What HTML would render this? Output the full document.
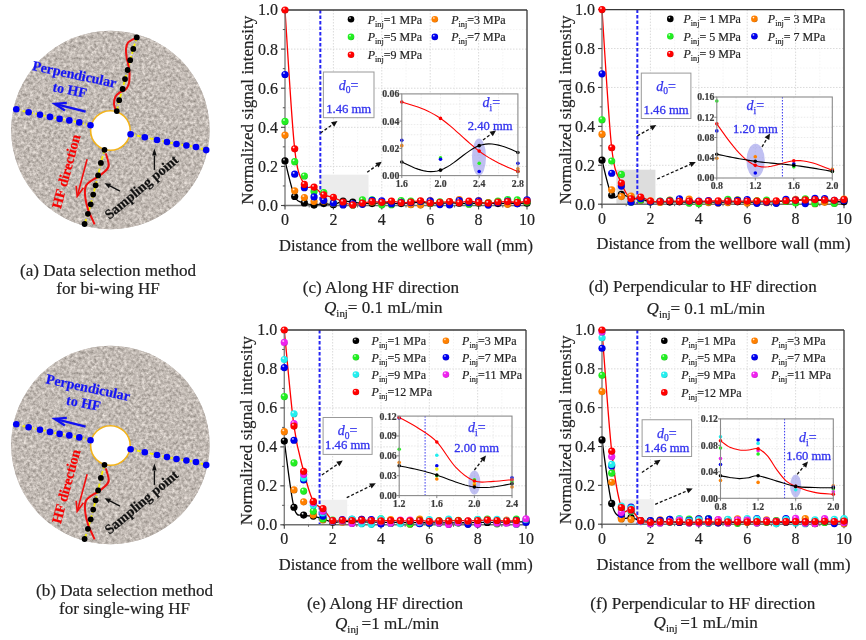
<!DOCTYPE html><html><head><meta charset="utf-8"><title>figure</title><style>html,body{margin:0;padding:0;background:#fff;width:866px;height:640px;overflow:hidden}svg{display:block}</style></head><body><svg width="866" height="640" viewBox="0 0 866 640" font-family="'Liberation Serif', 'Times New Roman', serif"><defs><radialGradient id="gk" cx="0.38" cy="0.35" r="0.7" fx="0.35" fy="0.3"><stop offset="0" stop-color="#ffffff"/><stop offset="0.28" stop-color="#000000"/><stop offset="0.8" stop-color="#000000"/><stop offset="1" stop-color="#000000"/></radialGradient><radialGradient id="go" cx="0.38" cy="0.35" r="0.7" fx="0.35" fy="0.3"><stop offset="0" stop-color="#ffffff"/><stop offset="0.28" stop-color="#ff8000"/><stop offset="0.8" stop-color="#ff8000"/><stop offset="1" stop-color="#b25900"/></radialGradient><radialGradient id="gg" cx="0.38" cy="0.35" r="0.7" fx="0.35" fy="0.3"><stop offset="0" stop-color="#ffffff"/><stop offset="0.28" stop-color="#22ee22"/><stop offset="0.8" stop-color="#22ee22"/><stop offset="1" stop-color="#17a617"/></radialGradient><radialGradient id="gb" cx="0.38" cy="0.35" r="0.7" fx="0.35" fy="0.3"><stop offset="0" stop-color="#ffffff"/><stop offset="0.28" stop-color="#0000ee"/><stop offset="0.8" stop-color="#0000ee"/><stop offset="1" stop-color="#0000a6"/></radialGradient><radialGradient id="gr" cx="0.38" cy="0.35" r="0.7" fx="0.35" fy="0.3"><stop offset="0" stop-color="#ffffff"/><stop offset="0.28" stop-color="#ff0000"/><stop offset="0.8" stop-color="#ff0000"/><stop offset="1" stop-color="#b20000"/></radialGradient><radialGradient id="gc" cx="0.38" cy="0.35" r="0.7" fx="0.35" fy="0.3"><stop offset="0" stop-color="#ffffff"/><stop offset="0.28" stop-color="#22eeee"/><stop offset="0.8" stop-color="#22eeee"/><stop offset="1" stop-color="#17a6a6"/></radialGradient><radialGradient id="gm" cx="0.38" cy="0.35" r="0.7" fx="0.35" fy="0.3"><stop offset="0" stop-color="#ffffff"/><stop offset="0.28" stop-color="#ee22ee"/><stop offset="0.8" stop-color="#ee22ee"/><stop offset="1" stop-color="#a617a6"/></radialGradient><radialGradient id="gy" cx="0.38" cy="0.35" r="0.7" fx="0.35" fy="0.3"><stop offset="0" stop-color="#ffffff"/><stop offset="0.28" stop-color="#eeee22"/><stop offset="0.8" stop-color="#eeee22"/><stop offset="1" stop-color="#a6a617"/></radialGradient><marker id="ah" viewBox="0 0 10 10" refX="9" refY="5" markerWidth="6" markerHeight="6" orient="auto-start-reverse" markerUnits="userSpaceOnUse"><path d="M0,0 L10,5 L0,10 z" fill="#000"/></marker><filter id="granite" x="0" y="0" width="100%" height="100%" color-interpolation-filters="sRGB"><feTurbulence type="fractalNoise" baseFrequency="0.33" numOctaves="3" seed="7" result="n"/><feColorMatrix type="matrix" in="n" result="gray" values="0.5 0 0 0 0.51  0.5 0 0 0 0.48  0.5 0 0 0 0.455  0 0 0 0 1"/><feGaussianBlur stdDeviation="0.35" result="bl"/><feComposite in="bl" in2="SourceGraphic" operator="in"/></filter></defs><rect width="866" height="640" fill="#fff"/><circle cx="110.4" cy="130" r="99.2" fill="#beb7b2"/><circle cx="110.4" cy="130" r="99.2" fill="#fff" filter="url(#granite)"/><circle cx="110.4" cy="130.5" r="19.8" fill="#fff" stroke="#f3b31a" stroke-width="1.6"/><polyline points="16.3,109.3 28.6,112.3 40,114.7 50,116.9 59.6,118.9 69.3,120.4 79.3,122.4 90.5,125.2" fill="none" stroke="#f6f000" stroke-width="1.8" stroke-dasharray="4,2.5"/><polyline points="130.6,134.2 144.8,137.2 157,140 167,142 176.5,144 186.4,145.5 196,147 206.2,150.1" fill="none" stroke="#f6f000" stroke-width="1.8" stroke-dasharray="4,2.5"/><polyline points="104.5,149.8 100.9,162.9 98.1,175.4 95.6,185.3 93.2,194.6 90.7,204.3 87.9,213.8 84.6,224" fill="none" stroke="#f6f000" stroke-width="1.8" stroke-dasharray="4,2.5"/><polyline points="136.8,37.4 133.3,48.9 130.2,60.2 127.6,70 125,79.1 122.6,89 119.2,100.2 116.8,111.1" fill="none" stroke="#f6f000" stroke-width="1.8" stroke-dasharray="4,2.5"/><path d="M105.9,153.4 C106.37,155.5 109.18,162.73 108.7,166 C108.22,169.27 105,171.12 103,173 C101,174.88 99.15,175.65 96.7,177.3 C94.25,178.95 90.22,181.15 88.3,182.9 C86.38,184.65 85.67,185.12 85.2,187.8 C84.73,190.48 84.98,195.25 85.5,199 C86.02,202.75 87.3,207.22 88.3,210.3 C89.3,213.38 90.45,215.15 91.5,217.5 C92.55,219.85 94.08,223.25 94.6,224.4" fill="none" stroke="#f01010" stroke-width="2"/><path d="M135.5,38 C134.25,38.77 129.58,40.78 128,42.6 C126.42,44.42 126.23,46.45 126,48.9 C125.77,51.35 126.13,54.25 126.6,57.3 C127.07,60.35 128.32,64.38 128.8,67.2 C129.28,70.02 129.5,71.4 129.5,74.2 C129.5,77 129.52,81.42 128.8,84 C128.08,86.58 126.73,88.28 125.2,89.7 C123.67,91.12 121.23,91.33 119.6,92.5 C117.97,93.67 116.33,94.82 115.4,96.7 C114.47,98.58 114,101.68 114,103.8 C114,105.92 115.17,108.47 115.4,109.4" fill="none" stroke="#f01010" stroke-width="2"/><circle cx="16.3" cy="109.3" r="3.3" fill="#0000f5"/><circle cx="28.6" cy="112.3" r="3.3" fill="#0000f5"/><circle cx="40" cy="114.7" r="3.3" fill="#0000f5"/><circle cx="50" cy="116.9" r="3.3" fill="#0000f5"/><circle cx="59.6" cy="118.9" r="3.3" fill="#0000f5"/><circle cx="69.3" cy="120.4" r="3.3" fill="#0000f5"/><circle cx="79.3" cy="122.4" r="3.3" fill="#0000f5"/><circle cx="90.5" cy="125.2" r="3.3" fill="#0000f5"/><circle cx="130.6" cy="134.2" r="3.3" fill="#0000f5"/><circle cx="144.8" cy="137.2" r="3.3" fill="#0000f5"/><circle cx="157" cy="140" r="3.3" fill="#0000f5"/><circle cx="167" cy="142" r="3.3" fill="#0000f5"/><circle cx="176.5" cy="144" r="3.3" fill="#0000f5"/><circle cx="186.4" cy="145.5" r="3.3" fill="#0000f5"/><circle cx="196" cy="147" r="3.3" fill="#0000f5"/><circle cx="206.2" cy="150.1" r="3.3" fill="#0000f5"/><circle cx="104.5" cy="149.8" r="2.9" fill="#000"/><circle cx="100.9" cy="162.9" r="2.9" fill="#000"/><circle cx="98.1" cy="175.4" r="2.9" fill="#000"/><circle cx="95.6" cy="185.3" r="2.9" fill="#000"/><circle cx="93.2" cy="194.6" r="2.9" fill="#000"/><circle cx="90.7" cy="204.3" r="2.9" fill="#000"/><circle cx="87.9" cy="213.8" r="2.9" fill="#000"/><circle cx="84.6" cy="224" r="2.9" fill="#000"/><circle cx="136.8" cy="37.4" r="2.9" fill="#000"/><circle cx="133.3" cy="48.9" r="2.9" fill="#000"/><circle cx="130.2" cy="60.2" r="2.9" fill="#000"/><circle cx="127.6" cy="70" r="2.9" fill="#000"/><circle cx="125" cy="79.1" r="2.9" fill="#000"/><circle cx="122.6" cy="89" r="2.9" fill="#000"/><circle cx="119.2" cy="100.2" r="2.9" fill="#000"/><circle cx="116.8" cy="111.1" r="2.9" fill="#000"/><line x1="85.6" y1="111.6" x2="55.77" y2="104.14" stroke="#1010f0" stroke-width="2.3"/><polyline points="66.81,102.88 54.8,103.9 64.91,110.45" fill="none" stroke="#1010f0" stroke-width="2.3" stroke-linejoin="miter"/><line x1="87.1" y1="159.2" x2="77.46" y2="195.43" stroke="#f01010" stroke-width="1.6"/><polyline points="76.1,185.76 77.2,196.4 83.44,187.71" fill="none" stroke="#f01010" stroke-width="1.6" stroke-linejoin="miter"/><line x1="154.4" y1="169.9" x2="154.4" y2="155.6" stroke="#111" stroke-width="1.3"/><path d="M154.4,148.6 L156.7,155.6 L152.1,155.6 Z" fill="#111"/><line x1="119.9" y1="191.1" x2="109.93" y2="185.95" stroke="#111" stroke-width="1.3"/><path d="M104.6,183.2 L111.08,183.73 L108.78,188.17 Z" fill="#111"/><text font-weight="bold" font-size="14" fill="#1515f5" stroke="#1515f5" stroke-width="0.18" text-anchor="middle" transform="translate(73.5,78.9) rotate(12)">Perpendicular</text><text font-weight="bold" font-size="14" fill="#1515f5" stroke="#1515f5" stroke-width="0.18" text-anchor="middle" transform="translate(68.9,94.5) rotate(11)">to HF</text><text font-weight="bold" font-size="14" fill="#f80000" stroke="#f80000" stroke-width="0.18" transform="translate(60.8,209.2) rotate(-75)">HF direction</text><text font-weight="bold" font-size="14" fill="#111" stroke="#111" stroke-width="0.18" transform="translate(109.4,219.9) rotate(-40)">Sampling point</text><g transform="translate(0,315)"><circle cx="110.4" cy="130" r="99.2" fill="#beb7b2"/><circle cx="110.4" cy="130" r="99.2" fill="#fff" filter="url(#granite)"/><circle cx="110.4" cy="130.5" r="19.8" fill="#fff" stroke="#f3b31a" stroke-width="1.6"/><polyline points="16.3,109.3 28.6,112.3 40,114.7 50,116.9 59.6,118.9 69.3,120.4 79.3,122.4 90.5,125.2" fill="none" stroke="#f6f000" stroke-width="1.8" stroke-dasharray="4,2.5"/><polyline points="130.6,134.2 144.8,137.2 157,140 167,142 176.5,144 186.4,145.5 196,147 206.2,150.1" fill="none" stroke="#f6f000" stroke-width="1.8" stroke-dasharray="4,2.5"/><polyline points="104.5,149.8 100.9,162.9 98.1,175.4 95.6,185.3 93.2,194.6 90.7,204.3 87.9,213.8 84.6,224" fill="none" stroke="#f6f000" stroke-width="1.8" stroke-dasharray="4,2.5"/><path d="M105.9,153.4 C106.37,155.5 109.18,162.73 108.7,166 C108.22,169.27 105,171.12 103,173 C101,174.88 99.15,175.65 96.7,177.3 C94.25,178.95 90.22,181.15 88.3,182.9 C86.38,184.65 85.67,185.12 85.2,187.8 C84.73,190.48 84.98,195.25 85.5,199 C86.02,202.75 87.3,207.22 88.3,210.3 C89.3,213.38 90.45,215.15 91.5,217.5 C92.55,219.85 94.08,223.25 94.6,224.4" fill="none" stroke="#f01010" stroke-width="2"/><circle cx="16.3" cy="109.3" r="3.3" fill="#0000f5"/><circle cx="28.6" cy="112.3" r="3.3" fill="#0000f5"/><circle cx="40" cy="114.7" r="3.3" fill="#0000f5"/><circle cx="50" cy="116.9" r="3.3" fill="#0000f5"/><circle cx="59.6" cy="118.9" r="3.3" fill="#0000f5"/><circle cx="69.3" cy="120.4" r="3.3" fill="#0000f5"/><circle cx="79.3" cy="122.4" r="3.3" fill="#0000f5"/><circle cx="90.5" cy="125.2" r="3.3" fill="#0000f5"/><circle cx="130.6" cy="134.2" r="3.3" fill="#0000f5"/><circle cx="144.8" cy="137.2" r="3.3" fill="#0000f5"/><circle cx="157" cy="140" r="3.3" fill="#0000f5"/><circle cx="167" cy="142" r="3.3" fill="#0000f5"/><circle cx="176.5" cy="144" r="3.3" fill="#0000f5"/><circle cx="186.4" cy="145.5" r="3.3" fill="#0000f5"/><circle cx="196" cy="147" r="3.3" fill="#0000f5"/><circle cx="206.2" cy="150.1" r="3.3" fill="#0000f5"/><circle cx="104.5" cy="149.8" r="2.9" fill="#000"/><circle cx="100.9" cy="162.9" r="2.9" fill="#000"/><circle cx="98.1" cy="175.4" r="2.9" fill="#000"/><circle cx="95.6" cy="185.3" r="2.9" fill="#000"/><circle cx="93.2" cy="194.6" r="2.9" fill="#000"/><circle cx="90.7" cy="204.3" r="2.9" fill="#000"/><circle cx="87.9" cy="213.8" r="2.9" fill="#000"/><circle cx="84.6" cy="224" r="2.9" fill="#000"/><line x1="85.6" y1="111.6" x2="55.77" y2="104.14" stroke="#1010f0" stroke-width="2.3"/><polyline points="66.81,102.88 54.8,103.9 64.91,110.45" fill="none" stroke="#1010f0" stroke-width="2.3" stroke-linejoin="miter"/><line x1="87.1" y1="159.2" x2="77.46" y2="195.43" stroke="#f01010" stroke-width="1.6"/><polyline points="76.1,185.76 77.2,196.4 83.44,187.71" fill="none" stroke="#f01010" stroke-width="1.6" stroke-linejoin="miter"/><line x1="154.4" y1="169.9" x2="154.4" y2="155.6" stroke="#111" stroke-width="1.3"/><path d="M154.4,148.6 L156.7,155.6 L152.1,155.6 Z" fill="#111"/><line x1="119.9" y1="191.1" x2="109.93" y2="185.95" stroke="#111" stroke-width="1.3"/><path d="M104.6,183.2 L111.08,183.73 L108.78,188.17 Z" fill="#111"/><text font-weight="bold" font-size="14" fill="#1515f5" stroke="#1515f5" stroke-width="0.18" text-anchor="middle" transform="translate(87.2,77.1) rotate(12)">Perpendicular</text><text font-weight="bold" font-size="14" fill="#1515f5" stroke="#1515f5" stroke-width="0.18" text-anchor="middle" transform="translate(82.6,92.7) rotate(11)">to HF</text><text font-weight="bold" font-size="14" fill="#f80000" stroke="#f80000" stroke-width="0.18" transform="translate(60.8,209.2) rotate(-75)">HF direction</text><text font-weight="bold" font-size="14" fill="#111" stroke="#111" stroke-width="0.18" transform="translate(109.4,219.9) rotate(-40)">Sampling point</text></g><text x="108" y="275.8" font-size="17.1" fill="#222" stroke="#222" stroke-width="0.18" text-anchor="middle">(a) Data selection method</text><text x="108" y="293.8" font-size="17.1" fill="#222" stroke="#222" stroke-width="0.18" text-anchor="middle">for bi-wing HF</text><text x="124.5" y="595.8" font-size="17.1" fill="#222" stroke="#222" stroke-width="0.18" text-anchor="middle">(b) Data selection method</text><text x="124.5" y="613.8" font-size="17.1" fill="#222" stroke="#222" stroke-width="0.18" text-anchor="middle">for single-wing HF</text><line x1="309.2" y1="10" x2="309.2" y2="205.5" stroke="#f1f1f1" stroke-width="0.8" stroke-dasharray="1.5,1.5"/><line x1="357.6" y1="10" x2="357.6" y2="205.5" stroke="#f1f1f1" stroke-width="0.8" stroke-dasharray="1.5,1.5"/><line x1="406" y1="10" x2="406" y2="205.5" stroke="#f1f1f1" stroke-width="0.8" stroke-dasharray="1.5,1.5"/><line x1="454.4" y1="10" x2="454.4" y2="205.5" stroke="#f1f1f1" stroke-width="0.8" stroke-dasharray="1.5,1.5"/><line x1="502.8" y1="10" x2="502.8" y2="205.5" stroke="#f1f1f1" stroke-width="0.8" stroke-dasharray="1.5,1.5"/><line x1="285" y1="185.95" x2="527" y2="185.95" stroke="#f1f1f1" stroke-width="0.8" stroke-dasharray="1.5,1.5"/><line x1="285" y1="146.85" x2="527" y2="146.85" stroke="#f1f1f1" stroke-width="0.8" stroke-dasharray="1.5,1.5"/><line x1="285" y1="107.75" x2="527" y2="107.75" stroke="#f1f1f1" stroke-width="0.8" stroke-dasharray="1.5,1.5"/><line x1="285" y1="68.65" x2="527" y2="68.65" stroke="#f1f1f1" stroke-width="0.8" stroke-dasharray="1.5,1.5"/><line x1="285" y1="29.55" x2="527" y2="29.55" stroke="#f1f1f1" stroke-width="0.8" stroke-dasharray="1.5,1.5"/><line x1="333.4" y1="10" x2="333.4" y2="205.5" stroke="#d6d6d6" stroke-width="0.9" stroke-dasharray="1.5,1.5"/><line x1="381.8" y1="10" x2="381.8" y2="205.5" stroke="#d6d6d6" stroke-width="0.9" stroke-dasharray="1.5,1.5"/><line x1="430.2" y1="10" x2="430.2" y2="205.5" stroke="#d6d6d6" stroke-width="0.9" stroke-dasharray="1.5,1.5"/><line x1="478.6" y1="10" x2="478.6" y2="205.5" stroke="#d6d6d6" stroke-width="0.9" stroke-dasharray="1.5,1.5"/><line x1="285" y1="166.4" x2="527" y2="166.4" stroke="#d6d6d6" stroke-width="0.9" stroke-dasharray="1.5,1.5"/><line x1="285" y1="127.3" x2="527" y2="127.3" stroke="#d6d6d6" stroke-width="0.9" stroke-dasharray="1.5,1.5"/><line x1="285" y1="88.2" x2="527" y2="88.2" stroke="#d6d6d6" stroke-width="0.9" stroke-dasharray="1.5,1.5"/><line x1="285" y1="49.1" x2="527" y2="49.1" stroke="#d6d6d6" stroke-width="0.9" stroke-dasharray="1.5,1.5"/><rect x="320.4" y="174.7" width="48.1" height="30.8" fill="#ececec"/><line x1="320.33" y1="10" x2="320.33" y2="205.5" stroke="#2424f4" stroke-width="2" stroke-dasharray="3.5,2"/><path d="M285,160.93 C286.61,166.86 291.45,189.5 294.68,196.51 C297.91,203.51 301.13,201.52 304.36,202.96 C307.59,204.39 310.81,205.01 314.04,205.11 C317.27,205.21 320.49,203.61 323.72,203.54 C326.95,203.48 330.17,205.11 333.4,204.72 C336.63,204.33 339.85,201.62 343.08,201.2 C346.31,200.78 349.53,201.85 352.76,202.18 C355.99,202.5 359.21,202.93 362.44,203.15 C365.67,203.38 368.89,203.61 372.12,203.54 C375.35,203.48 378.57,202.83 381.8,202.76 C385.03,202.7 388.25,203.02 391.48,203.15 C394.71,203.28 397.93,203.58 401.16,203.54 C404.39,203.51 407.61,203.15 410.84,202.96 C414.07,202.76 417.29,202.34 420.52,202.37 C423.75,202.4 426.97,202.96 430.2,203.15 C433.43,203.35 436.65,203.61 439.88,203.54 C443.11,203.48 446.33,202.83 449.56,202.76 C452.79,202.7 456.01,203.02 459.24,203.15 C462.47,203.28 465.69,203.58 468.92,203.54 C472.15,203.51 475.37,203.02 478.6,202.96 C481.83,202.89 485.05,203.06 488.28,203.15 C491.51,203.25 494.73,203.54 497.96,203.54 C501.19,203.54 504.41,203.19 507.64,203.15 C510.87,203.12 514.09,203.35 517.32,203.35 C520.55,203.35 525.39,203.19 527,203.15" fill="none" stroke="#000000" stroke-width="1.3"/><path d="M285,10 C286.61,33.13 291.45,119.74 294.68,148.81 C297.91,177.87 301.13,178 304.36,184.39 C307.59,190.77 310.81,185.36 314.04,187.12 C317.27,188.88 320.49,193.25 323.72,194.94 C326.95,196.64 330.17,196.12 333.4,197.29 C336.63,198.46 339.85,200.71 343.08,201.98 C346.31,203.25 349.53,204.72 352.76,204.91 C355.99,205.11 359.21,203.71 362.44,203.15 C365.67,202.6 368.89,201.72 372.12,201.59 C375.35,201.46 378.57,202.44 381.8,202.37 C385.03,202.31 388.25,201.13 391.48,201.2 C394.71,201.26 397.93,202.63 401.16,202.76 C404.39,202.89 407.61,202.31 410.84,201.98 C414.07,201.66 417.29,200.61 420.52,200.81 C423.75,201 426.97,202.89 430.2,203.15 C433.43,203.41 436.65,202.63 439.88,202.37 C443.11,202.11 446.33,201.52 449.56,201.59 C452.79,201.66 456.01,202.83 459.24,202.76 C462.47,202.7 465.69,201.26 468.92,201.2 C472.15,201.13 475.37,202.05 478.6,202.37 C481.83,202.7 485.05,203.22 488.28,203.15 C491.51,203.09 494.73,202.24 497.96,201.98 C501.19,201.72 504.41,201.52 507.64,201.59 C510.87,201.66 514.09,202.44 517.32,202.37 C520.55,202.31 525.39,201.39 527,201.2" fill="none" stroke="#ff0000" stroke-width="1.3"/><line x1="285" y1="10" x2="527" y2="10" stroke="#383838" stroke-width="1.3"/><line x1="527" y1="10" x2="527" y2="205.5" stroke="#383838" stroke-width="1.3"/><line x1="285" y1="9.4" x2="285" y2="206.5" stroke="#808080" stroke-width="1.4"/><line x1="283.5" y1="205.5" x2="527" y2="205.5" stroke="#707070" stroke-width="1.5"/><line x1="281" y1="205.5" x2="285" y2="205.5" stroke="#444" stroke-width="1.1"/><text x="278" y="210.9" font-size="16" fill="#222" stroke="#222" stroke-width="0.18" text-anchor="end">0.0</text><line x1="281" y1="166.4" x2="285" y2="166.4" stroke="#444" stroke-width="1.1"/><text x="278" y="171.8" font-size="16" fill="#222" stroke="#222" stroke-width="0.18" text-anchor="end">0.2</text><line x1="281" y1="127.3" x2="285" y2="127.3" stroke="#444" stroke-width="1.1"/><text x="278" y="132.7" font-size="16" fill="#222" stroke="#222" stroke-width="0.18" text-anchor="end">0.4</text><line x1="281" y1="88.2" x2="285" y2="88.2" stroke="#444" stroke-width="1.1"/><text x="278" y="93.6" font-size="16" fill="#222" stroke="#222" stroke-width="0.18" text-anchor="end">0.6</text><line x1="281" y1="49.1" x2="285" y2="49.1" stroke="#444" stroke-width="1.1"/><text x="278" y="54.5" font-size="16" fill="#222" stroke="#222" stroke-width="0.18" text-anchor="end">0.8</text><line x1="281" y1="10" x2="285" y2="10" stroke="#444" stroke-width="1.1"/><text x="278" y="15.4" font-size="16" fill="#222" stroke="#222" stroke-width="0.18" text-anchor="end">1.0</text><line x1="282.8" y1="185.95" x2="285" y2="185.95" stroke="#555" stroke-width="1"/><line x1="282.8" y1="146.85" x2="285" y2="146.85" stroke="#555" stroke-width="1"/><line x1="282.8" y1="107.75" x2="285" y2="107.75" stroke="#555" stroke-width="1"/><line x1="282.8" y1="68.65" x2="285" y2="68.65" stroke="#555" stroke-width="1"/><line x1="282.8" y1="29.55" x2="285" y2="29.55" stroke="#555" stroke-width="1"/><line x1="285" y1="205.5" x2="285" y2="209.5" stroke="#444" stroke-width="1.1"/><text x="285" y="224.8" font-size="16" fill="#222" stroke="#222" stroke-width="0.18" text-anchor="middle">0</text><line x1="333.4" y1="205.5" x2="333.4" y2="209.5" stroke="#444" stroke-width="1.1"/><text x="333.4" y="224.8" font-size="16" fill="#222" stroke="#222" stroke-width="0.18" text-anchor="middle">2</text><line x1="381.8" y1="205.5" x2="381.8" y2="209.5" stroke="#444" stroke-width="1.1"/><text x="381.8" y="224.8" font-size="16" fill="#222" stroke="#222" stroke-width="0.18" text-anchor="middle">4</text><line x1="430.2" y1="205.5" x2="430.2" y2="209.5" stroke="#444" stroke-width="1.1"/><text x="430.2" y="224.8" font-size="16" fill="#222" stroke="#222" stroke-width="0.18" text-anchor="middle">6</text><line x1="478.6" y1="205.5" x2="478.6" y2="209.5" stroke="#444" stroke-width="1.1"/><text x="478.6" y="224.8" font-size="16" fill="#222" stroke="#222" stroke-width="0.18" text-anchor="middle">8</text><line x1="527" y1="205.5" x2="527" y2="209.5" stroke="#444" stroke-width="1.1"/><text x="527" y="224.8" font-size="16" fill="#222" stroke="#222" stroke-width="0.18" text-anchor="middle">10</text><line x1="309.2" y1="205.5" x2="309.2" y2="207.5" stroke="#666" stroke-width="1"/><line x1="357.6" y1="205.5" x2="357.6" y2="207.5" stroke="#666" stroke-width="1"/><line x1="406" y1="205.5" x2="406" y2="207.5" stroke="#666" stroke-width="1"/><line x1="454.4" y1="205.5" x2="454.4" y2="207.5" stroke="#666" stroke-width="1"/><line x1="502.8" y1="205.5" x2="502.8" y2="207.5" stroke="#666" stroke-width="1"/><circle cx="285" cy="160.93" r="3.6" fill="url(#gk)"/><circle cx="294.68" cy="196.51" r="3.6" fill="url(#gk)"/><circle cx="304.36" cy="202.96" r="3.6" fill="url(#gk)"/><circle cx="314.04" cy="205.11" r="3.6" fill="url(#gk)"/><circle cx="323.72" cy="203.54" r="3.6" fill="url(#gk)"/><circle cx="333.4" cy="204.72" r="3.6" fill="url(#gk)"/><circle cx="343.08" cy="201.2" r="3.6" fill="url(#gk)"/><circle cx="352.76" cy="202.18" r="3.6" fill="url(#gk)"/><circle cx="362.44" cy="203.15" r="3.6" fill="url(#gk)"/><circle cx="372.12" cy="203.54" r="3.6" fill="url(#gk)"/><circle cx="381.8" cy="202.76" r="3.6" fill="url(#gk)"/><circle cx="391.48" cy="203.15" r="3.6" fill="url(#gk)"/><circle cx="401.16" cy="203.54" r="3.6" fill="url(#gk)"/><circle cx="410.84" cy="202.96" r="3.6" fill="url(#gk)"/><circle cx="420.52" cy="202.37" r="3.6" fill="url(#gk)"/><circle cx="430.2" cy="203.15" r="3.6" fill="url(#gk)"/><circle cx="439.88" cy="203.54" r="3.6" fill="url(#gk)"/><circle cx="449.56" cy="202.76" r="3.6" fill="url(#gk)"/><circle cx="459.24" cy="203.15" r="3.6" fill="url(#gk)"/><circle cx="468.92" cy="203.54" r="3.6" fill="url(#gk)"/><circle cx="478.6" cy="202.96" r="3.6" fill="url(#gk)"/><circle cx="488.28" cy="203.15" r="3.6" fill="url(#gk)"/><circle cx="497.96" cy="203.54" r="3.6" fill="url(#gk)"/><circle cx="507.64" cy="203.15" r="3.6" fill="url(#gk)"/><circle cx="517.32" cy="203.35" r="3.6" fill="url(#gk)"/><circle cx="527" cy="203.15" r="3.6" fill="url(#gk)"/><circle cx="285" cy="135.12" r="3.6" fill="url(#go)"/><circle cx="294.68" cy="190.84" r="3.6" fill="url(#go)"/><circle cx="304.36" cy="197.48" r="3.6" fill="url(#go)"/><circle cx="314.04" cy="201.59" r="3.6" fill="url(#go)"/><circle cx="323.72" cy="201.2" r="3.6" fill="url(#go)"/><circle cx="333.4" cy="203.54" r="3.6" fill="url(#go)"/><circle cx="343.08" cy="204.52" r="3.6" fill="url(#go)"/><circle cx="352.76" cy="204.52" r="3.6" fill="url(#go)"/><circle cx="362.44" cy="203.81" r="3.6" fill="url(#go)"/><circle cx="372.12" cy="202.13" r="3.6" fill="url(#go)"/><circle cx="381.8" cy="203.08" r="3.6" fill="url(#go)"/><circle cx="391.48" cy="201.8" r="3.6" fill="url(#go)"/><circle cx="401.16" cy="201.68" r="3.6" fill="url(#go)"/><circle cx="410.84" cy="204.75" r="3.6" fill="url(#go)"/><circle cx="420.52" cy="205.04" r="3.6" fill="url(#go)"/><circle cx="430.2" cy="200.52" r="3.6" fill="url(#go)"/><circle cx="439.88" cy="203.69" r="3.6" fill="url(#go)"/><circle cx="449.56" cy="203.83" r="3.6" fill="url(#go)"/><circle cx="459.24" cy="199.66" r="3.6" fill="url(#go)"/><circle cx="468.92" cy="202.53" r="3.6" fill="url(#go)"/><circle cx="478.6" cy="200.53" r="3.6" fill="url(#go)"/><circle cx="488.28" cy="202.5" r="3.6" fill="url(#go)"/><circle cx="497.96" cy="201.61" r="3.6" fill="url(#go)"/><circle cx="507.64" cy="204.28" r="3.6" fill="url(#go)"/><circle cx="517.32" cy="201.63" r="3.6" fill="url(#go)"/><circle cx="527" cy="200.36" r="3.6" fill="url(#go)"/><circle cx="285" cy="121.44" r="3.6" fill="url(#gg)"/><circle cx="294.68" cy="161.71" r="3.6" fill="url(#gg)"/><circle cx="304.36" cy="175.98" r="3.6" fill="url(#gg)"/><circle cx="314.04" cy="191.42" r="3.6" fill="url(#gg)"/><circle cx="323.72" cy="192.6" r="3.6" fill="url(#gg)"/><circle cx="333.4" cy="202.96" r="3.6" fill="url(#gg)"/><circle cx="343.08" cy="203.74" r="3.6" fill="url(#gg)"/><circle cx="352.76" cy="204.91" r="3.6" fill="url(#gg)"/><circle cx="362.44" cy="199.88" r="3.6" fill="url(#gg)"/><circle cx="372.12" cy="199.92" r="3.6" fill="url(#gg)"/><circle cx="381.8" cy="204.8" r="3.6" fill="url(#gg)"/><circle cx="391.48" cy="204.64" r="3.6" fill="url(#gg)"/><circle cx="401.16" cy="200.54" r="3.6" fill="url(#gg)"/><circle cx="410.84" cy="201.08" r="3.6" fill="url(#gg)"/><circle cx="420.52" cy="201.44" r="3.6" fill="url(#gg)"/><circle cx="430.2" cy="203.42" r="3.6" fill="url(#gg)"/><circle cx="439.88" cy="201.79" r="3.6" fill="url(#gg)"/><circle cx="449.56" cy="201.79" r="3.6" fill="url(#gg)"/><circle cx="459.24" cy="201.93" r="3.6" fill="url(#gg)"/><circle cx="468.92" cy="204.24" r="3.6" fill="url(#gg)"/><circle cx="478.6" cy="202.75" r="3.6" fill="url(#gg)"/><circle cx="488.28" cy="202.95" r="3.6" fill="url(#gg)"/><circle cx="497.96" cy="201.15" r="3.6" fill="url(#gg)"/><circle cx="507.64" cy="199.66" r="3.6" fill="url(#gg)"/><circle cx="517.32" cy="199.91" r="3.6" fill="url(#gg)"/><circle cx="527" cy="202.13" r="3.6" fill="url(#gg)"/><circle cx="285" cy="74.51" r="3.6" fill="url(#gb)"/><circle cx="294.68" cy="174.22" r="3.6" fill="url(#gb)"/><circle cx="304.36" cy="187.71" r="3.6" fill="url(#gb)"/><circle cx="314.04" cy="196.9" r="3.6" fill="url(#gb)"/><circle cx="323.72" cy="200.42" r="3.6" fill="url(#gb)"/><circle cx="333.4" cy="203.15" r="3.6" fill="url(#gb)"/><circle cx="343.08" cy="204.91" r="3.6" fill="url(#gb)"/><circle cx="352.76" cy="203.74" r="3.6" fill="url(#gb)"/><circle cx="362.44" cy="204.37" r="3.6" fill="url(#gb)"/><circle cx="372.12" cy="200.47" r="3.6" fill="url(#gb)"/><circle cx="381.8" cy="200.93" r="3.6" fill="url(#gb)"/><circle cx="391.48" cy="203.71" r="3.6" fill="url(#gb)"/><circle cx="401.16" cy="202.4" r="3.6" fill="url(#gb)"/><circle cx="410.84" cy="202.65" r="3.6" fill="url(#gb)"/><circle cx="420.52" cy="201.54" r="3.6" fill="url(#gb)"/><circle cx="430.2" cy="200.79" r="3.6" fill="url(#gb)"/><circle cx="439.88" cy="204.6" r="3.6" fill="url(#gb)"/><circle cx="449.56" cy="204.95" r="3.6" fill="url(#gb)"/><circle cx="459.24" cy="200.53" r="3.6" fill="url(#gb)"/><circle cx="468.92" cy="202.74" r="3.6" fill="url(#gb)"/><circle cx="478.6" cy="200.94" r="3.6" fill="url(#gb)"/><circle cx="488.28" cy="205.1" r="3.6" fill="url(#gb)"/><circle cx="497.96" cy="202.67" r="3.6" fill="url(#gb)"/><circle cx="507.64" cy="201.16" r="3.6" fill="url(#gb)"/><circle cx="517.32" cy="203.86" r="3.6" fill="url(#gb)"/><circle cx="527" cy="199.93" r="3.6" fill="url(#gb)"/><circle cx="285" cy="10" r="3.6" fill="url(#gr)"/><circle cx="294.68" cy="148.81" r="3.6" fill="url(#gr)"/><circle cx="304.36" cy="184.39" r="3.6" fill="url(#gr)"/><circle cx="314.04" cy="187.12" r="3.6" fill="url(#gr)"/><circle cx="323.72" cy="194.94" r="3.6" fill="url(#gr)"/><circle cx="333.4" cy="197.29" r="3.6" fill="url(#gr)"/><circle cx="343.08" cy="201.98" r="3.6" fill="url(#gr)"/><circle cx="352.76" cy="204.91" r="3.6" fill="url(#gr)"/><circle cx="362.44" cy="203.15" r="3.6" fill="url(#gr)"/><circle cx="372.12" cy="201.59" r="3.6" fill="url(#gr)"/><circle cx="381.8" cy="202.37" r="3.6" fill="url(#gr)"/><circle cx="391.48" cy="201.2" r="3.6" fill="url(#gr)"/><circle cx="401.16" cy="202.76" r="3.6" fill="url(#gr)"/><circle cx="410.84" cy="201.98" r="3.6" fill="url(#gr)"/><circle cx="420.52" cy="200.81" r="3.6" fill="url(#gr)"/><circle cx="430.2" cy="203.15" r="3.6" fill="url(#gr)"/><circle cx="439.88" cy="202.37" r="3.6" fill="url(#gr)"/><circle cx="449.56" cy="201.59" r="3.6" fill="url(#gr)"/><circle cx="459.24" cy="202.76" r="3.6" fill="url(#gr)"/><circle cx="468.92" cy="201.2" r="3.6" fill="url(#gr)"/><circle cx="478.6" cy="202.37" r="3.6" fill="url(#gr)"/><circle cx="488.28" cy="203.15" r="3.6" fill="url(#gr)"/><circle cx="497.96" cy="201.98" r="3.6" fill="url(#gr)"/><circle cx="507.64" cy="201.59" r="3.6" fill="url(#gr)"/><circle cx="517.32" cy="202.37" r="3.6" fill="url(#gr)"/><circle cx="527" cy="201.2" r="3.6" fill="url(#gr)"/><circle cx="351" cy="19.3" r="3.3" fill="url(#gk)"/><text x="367.7" y="23.6" font-size="12" fill="#222" stroke="#222" stroke-width="0.18"><tspan font-style="italic">P</tspan><tspan font-size="8.2" dy="3">inj</tspan><tspan dy="-3">=1 MPa</tspan></text><circle cx="434.8" cy="19.3" r="3.3" fill="url(#go)"/><text x="451.2" y="23.6" font-size="12" fill="#222" stroke="#222" stroke-width="0.18"><tspan font-style="italic">P</tspan><tspan font-size="8.2" dy="3">inj</tspan><tspan dy="-3">=3 MPa</tspan></text><circle cx="351" cy="36.9" r="3.3" fill="url(#gg)"/><text x="367.7" y="41.2" font-size="12" fill="#222" stroke="#222" stroke-width="0.18"><tspan font-style="italic">P</tspan><tspan font-size="8.2" dy="3">inj</tspan><tspan dy="-3">=5 MPa</tspan></text><circle cx="434.8" cy="36.9" r="3.3" fill="url(#gb)"/><text x="451.2" y="41.2" font-size="12" fill="#222" stroke="#222" stroke-width="0.18"><tspan font-style="italic">P</tspan><tspan font-size="8.2" dy="3">inj</tspan><tspan dy="-3">=7 MPa</tspan></text><circle cx="351" cy="54.8" r="3.3" fill="url(#gr)"/><text x="367.7" y="59.1" font-size="12" fill="#222" stroke="#222" stroke-width="0.18"><tspan font-style="italic">P</tspan><tspan font-size="8.2" dy="3">inj</tspan><tspan dy="-3">=9 MPa</tspan></text><rect x="323.4" y="72" width="50.6" height="45.7" fill="#fff" stroke="#999" stroke-width="1"/><text x="348.7" y="89.8" font-size="14" fill="#3333ee" stroke="#3333ee" stroke-width="0.25" text-anchor="middle"><tspan font-style="italic">d</tspan><tspan font-size="9.5" dy="3.5">0</tspan><tspan dy="-3.5">=</tspan></text><text x="348.7" y="112.7" font-size="12.7" fill="#3333ee" stroke="#3333ee" stroke-width="0.3" text-anchor="middle">1.46 mm</text><line x1="320.5" y1="133" x2="332.6" y2="124.46" stroke="#111" stroke-width="1.3" stroke-dasharray="3,2"/><path d="M337.5,121 L334.18,126.71 L331.01,122.21 Z" fill="#111"/><line x1="367.2" y1="172.3" x2="376.93" y2="165.3" stroke="#111" stroke-width="1.3" stroke-dasharray="3,2"/><path d="M381.8,161.8 L378.53,167.54 L375.32,163.07 Z" fill="#111"/><rect x="401.8" y="93.9" width="116.1" height="81.7" fill="#fff" fill-opacity="0.85"/><line x1="421.15" y1="93.9" x2="421.15" y2="175.6" stroke="#e6e6e6" stroke-width="0.8" stroke-dasharray="1.5,1.5"/><line x1="440.5" y1="93.9" x2="440.5" y2="175.6" stroke="#e6e6e6" stroke-width="0.8" stroke-dasharray="1.5,1.5"/><line x1="459.85" y1="93.9" x2="459.85" y2="175.6" stroke="#e6e6e6" stroke-width="0.8" stroke-dasharray="1.5,1.5"/><line x1="479.2" y1="93.9" x2="479.2" y2="175.6" stroke="#e6e6e6" stroke-width="0.8" stroke-dasharray="1.5,1.5"/><line x1="498.55" y1="93.9" x2="498.55" y2="175.6" stroke="#e6e6e6" stroke-width="0.8" stroke-dasharray="1.5,1.5"/><line x1="401.8" y1="104.11" x2="517.9" y2="104.11" stroke="#e6e6e6" stroke-width="0.8" stroke-dasharray="1.5,1.5"/><line x1="401.8" y1="114.33" x2="517.9" y2="114.33" stroke="#e6e6e6" stroke-width="0.8" stroke-dasharray="1.5,1.5"/><line x1="401.8" y1="124.54" x2="517.9" y2="124.54" stroke="#e6e6e6" stroke-width="0.8" stroke-dasharray="1.5,1.5"/><line x1="401.8" y1="134.75" x2="517.9" y2="134.75" stroke="#e6e6e6" stroke-width="0.8" stroke-dasharray="1.5,1.5"/><line x1="401.8" y1="144.96" x2="517.9" y2="144.96" stroke="#e6e6e6" stroke-width="0.8" stroke-dasharray="1.5,1.5"/><line x1="401.8" y1="155.18" x2="517.9" y2="155.18" stroke="#e6e6e6" stroke-width="0.8" stroke-dasharray="1.5,1.5"/><line x1="401.8" y1="165.39" x2="517.9" y2="165.39" stroke="#e6e6e6" stroke-width="0.8" stroke-dasharray="1.5,1.5"/><ellipse cx="479" cy="157.1" rx="7" ry="18.5" fill="#8c8ce8" fill-opacity="0.55"/><path d="M401.8,102.07 L405.03,103 L408.25,103.95 L411.48,104.94 L414.7,105.98 L417.93,107.1 L421.15,108.3 L424.38,109.61 L427.6,111.05 L430.82,112.63 L434.05,114.37 L437.27,116.29 L440.5,118.41 L443.73,120.74 L446.95,123.25 L450.18,125.9 L453.4,128.68 L456.62,131.54 L459.85,134.44 L463.07,137.37 L466.3,140.28 L469.52,143.14 L472.75,145.91 L475.97,148.58 L479.2,151.09 L482.43,153.43 L485.65,155.6 L488.88,157.63 L492.1,159.51 L495.32,161.28 L498.55,162.94 L501.77,164.5 L505,166 L508.22,167.43 L511.45,168.82 L514.67,170.17 L517.9,171.51" fill="none" stroke="#ff0000" stroke-width="1.1"/><path d="M401.8,161.98 L405.03,163.56 L408.25,165.1 L411.48,166.56 L414.7,167.91 L417.93,169.11 L421.15,170.12 L424.38,170.91 L427.6,171.43 L430.82,171.66 L434.05,171.54 L437.27,171.05 L440.5,170.15 L443.73,168.82 L446.95,167.11 L450.18,165.1 L453.4,162.86 L456.62,160.47 L459.85,158 L463.07,155.52 L466.3,153.11 L469.52,150.85 L472.75,148.8 L475.97,147.04 L479.2,145.64 L482.43,144.67 L485.65,144.1 L488.88,143.89 L492.1,144.01 L495.32,144.43 L498.55,145.1 L501.77,145.99 L505,147.06 L508.22,148.28 L511.45,149.61 L514.67,151.01 L517.9,152.45" fill="none" stroke="#000000" stroke-width="1.1"/><circle cx="401.8" cy="140.2" r="1.8" fill="#0000ee"/><circle cx="401.8" cy="145.64" r="1.8" fill="#ff8000"/><circle cx="440.5" cy="157.9" r="1.8" fill="#22ee22"/><circle cx="440.5" cy="159.26" r="1.8" fill="#0000ee"/><circle cx="479.2" cy="163.34" r="1.8" fill="#22ee22"/><circle cx="479.2" cy="171.51" r="1.8" fill="#0000ee"/><circle cx="517.9" cy="163.34" r="1.8" fill="#0000ee"/><circle cx="517.9" cy="168.79" r="1.8" fill="#ff8000"/><circle cx="517.9" cy="171.51" r="1.8" fill="#22ee22"/><circle cx="401.8" cy="102.07" r="1.8" fill="#ff0000"/><circle cx="440.5" cy="118.41" r="1.8" fill="#ff0000"/><circle cx="479.2" cy="151.09" r="1.8" fill="#ff0000"/><circle cx="517.9" cy="171.51" r="1.8" fill="#ff0000"/><circle cx="401.8" cy="161.98" r="1.8" fill="#000000"/><circle cx="440.5" cy="170.15" r="1.8" fill="#000000"/><circle cx="479.2" cy="145.64" r="1.8" fill="#000000"/><circle cx="517.9" cy="152.45" r="1.8" fill="#000000"/><rect x="401.8" y="93.9" width="116.1" height="81.7" fill="none" stroke="#8a8a8a" stroke-width="1.1"/><line x1="399.3" y1="175.6" x2="401.8" y2="175.6" stroke="#777" stroke-width="0.9"/><text x="399.3" y="179" font-size="9.8" fill="#3a3a3a" stroke="#3a3a3a" stroke-width="0.18" text-anchor="end" font-weight="bold">0.00</text><line x1="399.3" y1="148.37" x2="401.8" y2="148.37" stroke="#777" stroke-width="0.9"/><text x="399.3" y="151.77" font-size="9.8" fill="#3a3a3a" stroke="#3a3a3a" stroke-width="0.18" text-anchor="end" font-weight="bold">0.02</text><line x1="399.3" y1="121.13" x2="401.8" y2="121.13" stroke="#777" stroke-width="0.9"/><text x="399.3" y="124.53" font-size="9.8" fill="#3a3a3a" stroke="#3a3a3a" stroke-width="0.18" text-anchor="end" font-weight="bold">0.04</text><line x1="399.3" y1="93.9" x2="401.8" y2="93.9" stroke="#777" stroke-width="0.9"/><text x="399.3" y="97.3" font-size="9.8" fill="#3a3a3a" stroke="#3a3a3a" stroke-width="0.18" text-anchor="end" font-weight="bold">0.06</text><line x1="401.8" y1="175.6" x2="401.8" y2="178.1" stroke="#777" stroke-width="0.9"/><text x="401.8" y="186.9" font-size="9.8" fill="#3a3a3a" stroke="#3a3a3a" stroke-width="0.18" text-anchor="middle" font-weight="bold">1.6</text><line x1="440.5" y1="175.6" x2="440.5" y2="178.1" stroke="#777" stroke-width="0.9"/><text x="440.5" y="186.9" font-size="9.8" fill="#3a3a3a" stroke="#3a3a3a" stroke-width="0.18" text-anchor="middle" font-weight="bold">2.0</text><line x1="479.2" y1="175.6" x2="479.2" y2="178.1" stroke="#777" stroke-width="0.9"/><text x="479.2" y="186.9" font-size="9.8" fill="#3a3a3a" stroke="#3a3a3a" stroke-width="0.18" text-anchor="middle" font-weight="bold">2.4</text><line x1="517.9" y1="175.6" x2="517.9" y2="178.1" stroke="#777" stroke-width="0.9"/><text x="517.9" y="186.9" font-size="9.8" fill="#3a3a3a" stroke="#3a3a3a" stroke-width="0.18" text-anchor="middle" font-weight="bold">2.8</text><text x="482.6" y="106.6" font-size="14" fill="#3333ee" stroke="#3333ee" stroke-width="0.25"><tspan font-style="italic">d</tspan><tspan font-size="9.5" dy="4">i</tspan><tspan dy="-4">=</tspan></text><text x="467.8" y="129.9" font-size="12.6" fill="#3333ee" stroke="#3333ee" stroke-width="0.3">2.40 mm</text><line x1="483" y1="140" x2="491.16" y2="134.04" stroke="#111" stroke-width="1.3" stroke-dasharray="3,2"/><path d="M496,130.5 L492.78,136.26 L489.53,131.82 Z" fill="#111"/><text x="0" y="0" font-size="17.1" fill="#222" stroke="#222" stroke-width="0.18" text-anchor="middle" transform="translate(252.6,110.2) rotate(-90)">Normalized signal intensity</text><text x="406" y="250.6" font-size="16.55" fill="#222" stroke="#222" stroke-width="0.18" text-anchor="middle">Distance from the wellbore wall (mm)</text><line x1="626.2" y1="9.6" x2="626.2" y2="204.2" stroke="#f1f1f1" stroke-width="0.8" stroke-dasharray="1.5,1.5"/><line x1="674.6" y1="9.6" x2="674.6" y2="204.2" stroke="#f1f1f1" stroke-width="0.8" stroke-dasharray="1.5,1.5"/><line x1="723" y1="9.6" x2="723" y2="204.2" stroke="#f1f1f1" stroke-width="0.8" stroke-dasharray="1.5,1.5"/><line x1="771.4" y1="9.6" x2="771.4" y2="204.2" stroke="#f1f1f1" stroke-width="0.8" stroke-dasharray="1.5,1.5"/><line x1="819.8" y1="9.6" x2="819.8" y2="204.2" stroke="#f1f1f1" stroke-width="0.8" stroke-dasharray="1.5,1.5"/><line x1="602" y1="184.74" x2="844" y2="184.74" stroke="#f1f1f1" stroke-width="0.8" stroke-dasharray="1.5,1.5"/><line x1="602" y1="145.82" x2="844" y2="145.82" stroke="#f1f1f1" stroke-width="0.8" stroke-dasharray="1.5,1.5"/><line x1="602" y1="106.9" x2="844" y2="106.9" stroke="#f1f1f1" stroke-width="0.8" stroke-dasharray="1.5,1.5"/><line x1="602" y1="67.98" x2="844" y2="67.98" stroke="#f1f1f1" stroke-width="0.8" stroke-dasharray="1.5,1.5"/><line x1="602" y1="29.06" x2="844" y2="29.06" stroke="#f1f1f1" stroke-width="0.8" stroke-dasharray="1.5,1.5"/><line x1="650.4" y1="9.6" x2="650.4" y2="204.2" stroke="#d6d6d6" stroke-width="0.9" stroke-dasharray="1.5,1.5"/><line x1="698.8" y1="9.6" x2="698.8" y2="204.2" stroke="#d6d6d6" stroke-width="0.9" stroke-dasharray="1.5,1.5"/><line x1="747.2" y1="9.6" x2="747.2" y2="204.2" stroke="#d6d6d6" stroke-width="0.9" stroke-dasharray="1.5,1.5"/><line x1="795.6" y1="9.6" x2="795.6" y2="204.2" stroke="#d6d6d6" stroke-width="0.9" stroke-dasharray="1.5,1.5"/><line x1="602" y1="165.28" x2="844" y2="165.28" stroke="#d6d6d6" stroke-width="0.9" stroke-dasharray="1.5,1.5"/><line x1="602" y1="126.36" x2="844" y2="126.36" stroke="#d6d6d6" stroke-width="0.9" stroke-dasharray="1.5,1.5"/><line x1="602" y1="87.44" x2="844" y2="87.44" stroke="#d6d6d6" stroke-width="0.9" stroke-dasharray="1.5,1.5"/><line x1="602" y1="48.52" x2="844" y2="48.52" stroke="#d6d6d6" stroke-width="0.9" stroke-dasharray="1.5,1.5"/><rect x="616.4" y="169.7" width="39" height="34.5" fill="#dddddd"/><line x1="637.33" y1="9.6" x2="637.33" y2="204.2" stroke="#2424f4" stroke-width="2" stroke-dasharray="3.5,2"/><path d="M602,160.22 C603.61,166.06 608.45,189.54 611.68,195.25 C614.91,200.96 618.13,194.05 621.36,194.47 C624.59,194.89 627.81,196.97 631.04,197.78 C634.27,198.59 637.49,198.69 640.72,199.33 C643.95,199.98 647.17,201.25 650.4,201.67 C653.63,202.09 656.85,201.8 660.08,201.86 C663.31,201.93 666.53,202.06 669.76,202.06 C672.99,202.06 676.21,201.83 679.44,201.86 C682.67,201.9 685.89,202.22 689.12,202.25 C692.35,202.29 695.57,202.12 698.8,202.06 C702.03,201.99 705.25,201.83 708.48,201.86 C711.71,201.9 714.93,202.22 718.16,202.25 C721.39,202.29 724.61,202.12 727.84,202.06 C731.07,201.99 734.29,201.83 737.52,201.86 C740.75,201.9 743.97,202.22 747.2,202.25 C750.43,202.29 753.65,202.12 756.88,202.06 C760.11,201.99 763.33,201.93 766.56,201.86 C769.79,201.8 773.01,201.8 776.24,201.67 C779.47,201.54 782.69,201.31 785.92,201.09 C789.15,200.86 792.37,200.57 795.6,200.31 C798.83,200.05 802.05,199.59 805.28,199.53 C808.51,199.46 811.73,199.72 814.96,199.92 C818.19,200.11 821.41,200.44 824.64,200.7 C827.87,200.96 831.09,201.28 834.32,201.48 C837.55,201.67 842.39,201.8 844,201.86" fill="none" stroke="#000000" stroke-width="1.3"/><path d="M602,9.6 C603.61,32.63 608.45,118.87 611.68,147.77 C614.91,176.66 618.13,174.49 621.36,182.99 C624.59,191.49 627.81,196.42 631.04,198.75 C634.27,201.09 637.49,196.61 640.72,197 C643.95,197.39 647.17,200.34 650.4,201.09 C653.63,201.83 656.85,201.48 660.08,201.48 C663.31,201.48 666.53,201.12 669.76,201.09 C672.99,201.05 676.21,201.28 679.44,201.28 C682.67,201.28 685.89,201.09 689.12,201.09 C692.35,201.09 695.57,201.28 698.8,201.28 C702.03,201.28 705.25,201.15 708.48,201.09 C711.71,201.02 714.93,200.89 718.16,200.89 C721.39,200.89 724.61,201.02 727.84,201.09 C731.07,201.15 734.29,201.28 737.52,201.28 C740.75,201.28 743.97,201.12 747.2,201.09 C750.43,201.05 753.65,201.05 756.88,201.09 C760.11,201.12 763.33,201.31 766.56,201.28 C769.79,201.25 773.01,200.99 776.24,200.89 C779.47,200.79 782.69,200.79 785.92,200.7 C789.15,200.6 792.37,200.44 795.6,200.31 C798.83,200.18 802.05,200.05 805.28,199.92 C808.51,199.79 811.73,199.53 814.96,199.53 C818.19,199.53 821.41,199.79 824.64,199.92 C827.87,200.05 831.09,200.37 834.32,200.31 C837.55,200.24 842.39,199.66 844,199.53" fill="none" stroke="#ff0000" stroke-width="1.3"/><line x1="602" y1="9.6" x2="844" y2="9.6" stroke="#383838" stroke-width="1.3"/><line x1="844" y1="9.6" x2="844" y2="204.2" stroke="#383838" stroke-width="1.3"/><line x1="602" y1="9" x2="602" y2="205.2" stroke="#808080" stroke-width="1.4"/><line x1="600.5" y1="204.2" x2="844" y2="204.2" stroke="#707070" stroke-width="1.5"/><line x1="598" y1="204.2" x2="602" y2="204.2" stroke="#444" stroke-width="1.1"/><text x="595" y="209.6" font-size="16" fill="#222" stroke="#222" stroke-width="0.18" text-anchor="end">0.0</text><line x1="598" y1="165.28" x2="602" y2="165.28" stroke="#444" stroke-width="1.1"/><text x="595" y="170.68" font-size="16" fill="#222" stroke="#222" stroke-width="0.18" text-anchor="end">0.2</text><line x1="598" y1="126.36" x2="602" y2="126.36" stroke="#444" stroke-width="1.1"/><text x="595" y="131.76" font-size="16" fill="#222" stroke="#222" stroke-width="0.18" text-anchor="end">0.4</text><line x1="598" y1="87.44" x2="602" y2="87.44" stroke="#444" stroke-width="1.1"/><text x="595" y="92.84" font-size="16" fill="#222" stroke="#222" stroke-width="0.18" text-anchor="end">0.6</text><line x1="598" y1="48.52" x2="602" y2="48.52" stroke="#444" stroke-width="1.1"/><text x="595" y="53.92" font-size="16" fill="#222" stroke="#222" stroke-width="0.18" text-anchor="end">0.8</text><line x1="598" y1="9.6" x2="602" y2="9.6" stroke="#444" stroke-width="1.1"/><text x="595" y="15" font-size="16" fill="#222" stroke="#222" stroke-width="0.18" text-anchor="end">1.0</text><line x1="599.8" y1="184.74" x2="602" y2="184.74" stroke="#555" stroke-width="1"/><line x1="599.8" y1="145.82" x2="602" y2="145.82" stroke="#555" stroke-width="1"/><line x1="599.8" y1="106.9" x2="602" y2="106.9" stroke="#555" stroke-width="1"/><line x1="599.8" y1="67.98" x2="602" y2="67.98" stroke="#555" stroke-width="1"/><line x1="599.8" y1="29.06" x2="602" y2="29.06" stroke="#555" stroke-width="1"/><line x1="602" y1="204.2" x2="602" y2="208.2" stroke="#444" stroke-width="1.1"/><text x="602" y="223.5" font-size="16" fill="#222" stroke="#222" stroke-width="0.18" text-anchor="middle">0</text><line x1="650.4" y1="204.2" x2="650.4" y2="208.2" stroke="#444" stroke-width="1.1"/><text x="650.4" y="223.5" font-size="16" fill="#222" stroke="#222" stroke-width="0.18" text-anchor="middle">2</text><line x1="698.8" y1="204.2" x2="698.8" y2="208.2" stroke="#444" stroke-width="1.1"/><text x="698.8" y="223.5" font-size="16" fill="#222" stroke="#222" stroke-width="0.18" text-anchor="middle">4</text><line x1="747.2" y1="204.2" x2="747.2" y2="208.2" stroke="#444" stroke-width="1.1"/><text x="747.2" y="223.5" font-size="16" fill="#222" stroke="#222" stroke-width="0.18" text-anchor="middle">6</text><line x1="795.6" y1="204.2" x2="795.6" y2="208.2" stroke="#444" stroke-width="1.1"/><text x="795.6" y="223.5" font-size="16" fill="#222" stroke="#222" stroke-width="0.18" text-anchor="middle">8</text><line x1="844" y1="204.2" x2="844" y2="208.2" stroke="#444" stroke-width="1.1"/><text x="844" y="223.5" font-size="16" fill="#222" stroke="#222" stroke-width="0.18" text-anchor="middle">10</text><line x1="626.2" y1="204.2" x2="626.2" y2="206.2" stroke="#666" stroke-width="1"/><line x1="674.6" y1="204.2" x2="674.6" y2="206.2" stroke="#666" stroke-width="1"/><line x1="723" y1="204.2" x2="723" y2="206.2" stroke="#666" stroke-width="1"/><line x1="771.4" y1="204.2" x2="771.4" y2="206.2" stroke="#666" stroke-width="1"/><line x1="819.8" y1="204.2" x2="819.8" y2="206.2" stroke="#666" stroke-width="1"/><circle cx="602" cy="160.22" r="3.6" fill="url(#gk)"/><circle cx="611.68" cy="195.25" r="3.6" fill="url(#gk)"/><circle cx="621.36" cy="194.47" r="3.6" fill="url(#gk)"/><circle cx="631.04" cy="197.78" r="3.6" fill="url(#gk)"/><circle cx="640.72" cy="199.33" r="3.6" fill="url(#gk)"/><circle cx="650.4" cy="201.67" r="3.6" fill="url(#gk)"/><circle cx="660.08" cy="201.86" r="3.6" fill="url(#gk)"/><circle cx="669.76" cy="202.06" r="3.6" fill="url(#gk)"/><circle cx="679.44" cy="201.86" r="3.6" fill="url(#gk)"/><circle cx="689.12" cy="202.25" r="3.6" fill="url(#gk)"/><circle cx="698.8" cy="202.06" r="3.6" fill="url(#gk)"/><circle cx="708.48" cy="201.86" r="3.6" fill="url(#gk)"/><circle cx="718.16" cy="202.25" r="3.6" fill="url(#gk)"/><circle cx="727.84" cy="202.06" r="3.6" fill="url(#gk)"/><circle cx="737.52" cy="201.86" r="3.6" fill="url(#gk)"/><circle cx="747.2" cy="202.25" r="3.6" fill="url(#gk)"/><circle cx="756.88" cy="202.06" r="3.6" fill="url(#gk)"/><circle cx="766.56" cy="201.86" r="3.6" fill="url(#gk)"/><circle cx="776.24" cy="201.67" r="3.6" fill="url(#gk)"/><circle cx="785.92" cy="201.09" r="3.6" fill="url(#gk)"/><circle cx="795.6" cy="200.31" r="3.6" fill="url(#gk)"/><circle cx="805.28" cy="199.53" r="3.6" fill="url(#gk)"/><circle cx="814.96" cy="199.92" r="3.6" fill="url(#gk)"/><circle cx="824.64" cy="200.7" r="3.6" fill="url(#gk)"/><circle cx="834.32" cy="201.48" r="3.6" fill="url(#gk)"/><circle cx="844" cy="201.86" r="3.6" fill="url(#gk)"/><circle cx="602" cy="134.14" r="3.6" fill="url(#go)"/><circle cx="611.68" cy="189.8" r="3.6" fill="url(#go)"/><circle cx="621.36" cy="196.61" r="3.6" fill="url(#go)"/><circle cx="631.04" cy="196.03" r="3.6" fill="url(#go)"/><circle cx="640.72" cy="200.31" r="3.6" fill="url(#go)"/><circle cx="650.4" cy="200.89" r="3.6" fill="url(#go)"/><circle cx="660.08" cy="202.4" r="3.6" fill="url(#go)"/><circle cx="669.76" cy="200.08" r="3.6" fill="url(#go)"/><circle cx="679.44" cy="200.08" r="3.6" fill="url(#go)"/><circle cx="689.12" cy="199.18" r="3.6" fill="url(#go)"/><circle cx="698.8" cy="202.8" r="3.6" fill="url(#go)"/><circle cx="708.48" cy="202.55" r="3.6" fill="url(#go)"/><circle cx="718.16" cy="203.01" r="3.6" fill="url(#go)"/><circle cx="727.84" cy="202.58" r="3.6" fill="url(#go)"/><circle cx="737.52" cy="199.81" r="3.6" fill="url(#go)"/><circle cx="747.2" cy="203.1" r="3.6" fill="url(#go)"/><circle cx="756.88" cy="200.92" r="3.6" fill="url(#go)"/><circle cx="766.56" cy="202.65" r="3.6" fill="url(#go)"/><circle cx="776.24" cy="202.21" r="3.6" fill="url(#go)"/><circle cx="785.92" cy="201.46" r="3.6" fill="url(#go)"/><circle cx="795.6" cy="199.25" r="3.6" fill="url(#go)"/><circle cx="805.28" cy="200.5" r="3.6" fill="url(#go)"/><circle cx="814.96" cy="203.73" r="3.6" fill="url(#go)"/><circle cx="824.64" cy="202.31" r="3.6" fill="url(#go)"/><circle cx="834.32" cy="203.01" r="3.6" fill="url(#go)"/><circle cx="844" cy="199.06" r="3.6" fill="url(#go)"/><circle cx="602" cy="119.74" r="3.6" fill="url(#gg)"/><circle cx="611.68" cy="161" r="3.6" fill="url(#gg)"/><circle cx="621.36" cy="174.43" r="3.6" fill="url(#gg)"/><circle cx="631.04" cy="202.25" r="3.6" fill="url(#gg)"/><circle cx="640.72" cy="199.92" r="3.6" fill="url(#gg)"/><circle cx="650.4" cy="201.67" r="3.6" fill="url(#gg)"/><circle cx="660.08" cy="201.22" r="3.6" fill="url(#gg)"/><circle cx="669.76" cy="200.23" r="3.6" fill="url(#gg)"/><circle cx="679.44" cy="200.18" r="3.6" fill="url(#gg)"/><circle cx="689.12" cy="203.03" r="3.6" fill="url(#gg)"/><circle cx="698.8" cy="203.75" r="3.6" fill="url(#gg)"/><circle cx="708.48" cy="201.77" r="3.6" fill="url(#gg)"/><circle cx="718.16" cy="202.32" r="3.6" fill="url(#gg)"/><circle cx="727.84" cy="199.4" r="3.6" fill="url(#gg)"/><circle cx="737.52" cy="200.05" r="3.6" fill="url(#gg)"/><circle cx="747.2" cy="200.53" r="3.6" fill="url(#gg)"/><circle cx="756.88" cy="200.77" r="3.6" fill="url(#gg)"/><circle cx="766.56" cy="200.21" r="3.6" fill="url(#gg)"/><circle cx="776.24" cy="203.02" r="3.6" fill="url(#gg)"/><circle cx="785.92" cy="201.41" r="3.6" fill="url(#gg)"/><circle cx="795.6" cy="202.93" r="3.6" fill="url(#gg)"/><circle cx="805.28" cy="198.87" r="3.6" fill="url(#gg)"/><circle cx="814.96" cy="203.49" r="3.6" fill="url(#gg)"/><circle cx="824.64" cy="199.35" r="3.6" fill="url(#gg)"/><circle cx="834.32" cy="203.4" r="3.6" fill="url(#gg)"/><circle cx="844" cy="200.07" r="3.6" fill="url(#gg)"/><circle cx="602" cy="73.82" r="3.6" fill="url(#gb)"/><circle cx="611.68" cy="173.26" r="3.6" fill="url(#gb)"/><circle cx="621.36" cy="186.1" r="3.6" fill="url(#gb)"/><circle cx="631.04" cy="202.25" r="3.6" fill="url(#gb)"/><circle cx="640.72" cy="198.75" r="3.6" fill="url(#gb)"/><circle cx="650.4" cy="201.86" r="3.6" fill="url(#gb)"/><circle cx="660.08" cy="201.35" r="3.6" fill="url(#gb)"/><circle cx="669.76" cy="200.76" r="3.6" fill="url(#gb)"/><circle cx="679.44" cy="198.77" r="3.6" fill="url(#gb)"/><circle cx="689.12" cy="201.27" r="3.6" fill="url(#gb)"/><circle cx="698.8" cy="201.04" r="3.6" fill="url(#gb)"/><circle cx="708.48" cy="200.61" r="3.6" fill="url(#gb)"/><circle cx="718.16" cy="202.8" r="3.6" fill="url(#gb)"/><circle cx="727.84" cy="201.02" r="3.6" fill="url(#gb)"/><circle cx="737.52" cy="200.38" r="3.6" fill="url(#gb)"/><circle cx="747.2" cy="199.49" r="3.6" fill="url(#gb)"/><circle cx="756.88" cy="203.3" r="3.6" fill="url(#gb)"/><circle cx="766.56" cy="202.16" r="3.6" fill="url(#gb)"/><circle cx="776.24" cy="203.32" r="3.6" fill="url(#gb)"/><circle cx="785.92" cy="199.4" r="3.6" fill="url(#gb)"/><circle cx="795.6" cy="200.03" r="3.6" fill="url(#gb)"/><circle cx="805.28" cy="203.58" r="3.6" fill="url(#gb)"/><circle cx="814.96" cy="198.46" r="3.6" fill="url(#gb)"/><circle cx="824.64" cy="198.55" r="3.6" fill="url(#gb)"/><circle cx="834.32" cy="200.25" r="3.6" fill="url(#gb)"/><circle cx="844" cy="200.46" r="3.6" fill="url(#gb)"/><circle cx="602" cy="9.6" r="3.6" fill="url(#gr)"/><circle cx="611.68" cy="147.77" r="3.6" fill="url(#gr)"/><circle cx="621.36" cy="182.99" r="3.6" fill="url(#gr)"/><circle cx="631.04" cy="198.75" r="3.6" fill="url(#gr)"/><circle cx="640.72" cy="197" r="3.6" fill="url(#gr)"/><circle cx="650.4" cy="201.09" r="3.6" fill="url(#gr)"/><circle cx="660.08" cy="201.48" r="3.6" fill="url(#gr)"/><circle cx="669.76" cy="201.09" r="3.6" fill="url(#gr)"/><circle cx="679.44" cy="201.28" r="3.6" fill="url(#gr)"/><circle cx="689.12" cy="201.09" r="3.6" fill="url(#gr)"/><circle cx="698.8" cy="201.28" r="3.6" fill="url(#gr)"/><circle cx="708.48" cy="201.09" r="3.6" fill="url(#gr)"/><circle cx="718.16" cy="200.89" r="3.6" fill="url(#gr)"/><circle cx="727.84" cy="201.09" r="3.6" fill="url(#gr)"/><circle cx="737.52" cy="201.28" r="3.6" fill="url(#gr)"/><circle cx="747.2" cy="201.09" r="3.6" fill="url(#gr)"/><circle cx="756.88" cy="201.09" r="3.6" fill="url(#gr)"/><circle cx="766.56" cy="201.28" r="3.6" fill="url(#gr)"/><circle cx="776.24" cy="200.89" r="3.6" fill="url(#gr)"/><circle cx="785.92" cy="200.7" r="3.6" fill="url(#gr)"/><circle cx="795.6" cy="200.31" r="3.6" fill="url(#gr)"/><circle cx="805.28" cy="199.92" r="3.6" fill="url(#gr)"/><circle cx="814.96" cy="199.53" r="3.6" fill="url(#gr)"/><circle cx="824.64" cy="199.92" r="3.6" fill="url(#gr)"/><circle cx="834.32" cy="200.31" r="3.6" fill="url(#gr)"/><circle cx="844" cy="199.53" r="3.6" fill="url(#gr)"/><circle cx="670.3" cy="18.9" r="3.3" fill="url(#gk)"/><text x="683.5" y="23.2" font-size="12" fill="#222" stroke="#222" stroke-width="0.18"><tspan font-style="italic">P</tspan><tspan font-size="8.2" dy="3">inj</tspan><tspan dy="-3">= 1 MPa</tspan></text><circle cx="754.4" cy="18.9" r="3.3" fill="url(#go)"/><text x="767.8" y="23.2" font-size="12" fill="#222" stroke="#222" stroke-width="0.18"><tspan font-style="italic">P</tspan><tspan font-size="8.2" dy="3">inj</tspan><tspan dy="-3">= 3 MPa</tspan></text><circle cx="670.3" cy="36.2" r="3.3" fill="url(#gg)"/><text x="683.5" y="40.5" font-size="12" fill="#222" stroke="#222" stroke-width="0.18"><tspan font-style="italic">P</tspan><tspan font-size="8.2" dy="3">inj</tspan><tspan dy="-3">= 5 MPa</tspan></text><circle cx="754.4" cy="36.2" r="3.3" fill="url(#gb)"/><text x="767.8" y="40.5" font-size="12" fill="#222" stroke="#222" stroke-width="0.18"><tspan font-style="italic">P</tspan><tspan font-size="8.2" dy="3">inj</tspan><tspan dy="-3">= 7 MPa</tspan></text><circle cx="670.3" cy="54" r="3.3" fill="url(#gr)"/><text x="683.5" y="58.3" font-size="12" fill="#222" stroke="#222" stroke-width="0.18"><tspan font-style="italic">P</tspan><tspan font-size="8.2" dy="3">inj</tspan><tspan dy="-3">= 9 MPa</tspan></text><rect x="641.3" y="73.1" width="49.6" height="45.4" fill="#fff" stroke="#999" stroke-width="1"/><text x="666.1" y="90.9" font-size="14" fill="#3333ee" stroke="#3333ee" stroke-width="0.25" text-anchor="middle"><tspan font-style="italic">d</tspan><tspan font-size="9.5" dy="3.5">0</tspan><tspan dy="-3.5">=</tspan></text><text x="666.1" y="113.5" font-size="12.7" fill="#3333ee" stroke="#3333ee" stroke-width="0.3" text-anchor="middle">1.46 mm</text><line x1="637.4" y1="135.9" x2="651.09" y2="128.08" stroke="#111" stroke-width="1.3" stroke-dasharray="3,2"/><path d="M656.3,125.1 L652.45,130.46 L649.73,125.69 Z" fill="#111"/><line x1="657.2" y1="179" x2="690.31" y2="164.42" stroke="#111" stroke-width="1.3" stroke-dasharray="3,2"/><path d="M695.8,162 L691.42,166.94 L689.2,161.9 Z" fill="#111"/><rect x="716.8" y="97" width="115.5" height="81" fill="#fff" fill-opacity="0.85"/><line x1="736.05" y1="97" x2="736.05" y2="178" stroke="#e6e6e6" stroke-width="0.8" stroke-dasharray="1.5,1.5"/><line x1="755.3" y1="97" x2="755.3" y2="178" stroke="#e6e6e6" stroke-width="0.8" stroke-dasharray="1.5,1.5"/><line x1="774.55" y1="97" x2="774.55" y2="178" stroke="#e6e6e6" stroke-width="0.8" stroke-dasharray="1.5,1.5"/><line x1="793.8" y1="97" x2="793.8" y2="178" stroke="#e6e6e6" stroke-width="0.8" stroke-dasharray="1.5,1.5"/><line x1="813.05" y1="97" x2="813.05" y2="178" stroke="#e6e6e6" stroke-width="0.8" stroke-dasharray="1.5,1.5"/><line x1="716.8" y1="107.12" x2="832.3" y2="107.12" stroke="#e6e6e6" stroke-width="0.8" stroke-dasharray="1.5,1.5"/><line x1="716.8" y1="117.25" x2="832.3" y2="117.25" stroke="#e6e6e6" stroke-width="0.8" stroke-dasharray="1.5,1.5"/><line x1="716.8" y1="127.38" x2="832.3" y2="127.38" stroke="#e6e6e6" stroke-width="0.8" stroke-dasharray="1.5,1.5"/><line x1="716.8" y1="137.5" x2="832.3" y2="137.5" stroke="#e6e6e6" stroke-width="0.8" stroke-dasharray="1.5,1.5"/><line x1="716.8" y1="147.62" x2="832.3" y2="147.62" stroke="#e6e6e6" stroke-width="0.8" stroke-dasharray="1.5,1.5"/><line x1="716.8" y1="157.75" x2="832.3" y2="157.75" stroke="#e6e6e6" stroke-width="0.8" stroke-dasharray="1.5,1.5"/><line x1="716.8" y1="167.88" x2="832.3" y2="167.88" stroke="#e6e6e6" stroke-width="0.8" stroke-dasharray="1.5,1.5"/><line x1="782.4" y1="97" x2="782.4" y2="178" stroke="#3333ee" stroke-width="1" stroke-dasharray="1.5,1.5"/><ellipse cx="755.6" cy="160.6" rx="9.2" ry="16.8" fill="#8c8ce8" fill-opacity="0.55"/><path d="M716.8,123.83 L720.01,128.39 L723.22,132.89 L726.42,137.31 L729.63,141.59 L732.84,145.68 L736.05,149.55 L739.26,153.14 L742.47,156.41 L745.67,159.31 L748.88,161.79 L752.09,163.82 L755.3,165.34 L758.51,166.33 L761.72,166.84 L764.92,166.94 L768.13,166.7 L771.34,166.18 L774.55,165.46 L777.76,164.6 L780.97,163.69 L784.17,162.78 L787.38,161.95 L790.59,161.26 L793.8,160.79 L797.01,160.59 L800.22,160.65 L803.42,160.94 L806.63,161.46 L809.84,162.16 L813.05,163.03 L816.26,164.04 L819.47,165.17 L822.67,166.4 L825.88,167.69 L829.09,169.04 L832.3,170.41" fill="none" stroke="#ff0000" stroke-width="1.1"/><path d="M716.8,154.21 L720.01,154.88 L723.22,155.54 L726.42,156.2 L729.63,156.85 L732.84,157.48 L736.05,158.1 L739.26,158.7 L742.47,159.28 L745.67,159.83 L748.88,160.35 L752.09,160.84 L755.3,161.29 L758.51,161.71 L761.72,162.09 L764.92,162.44 L768.13,162.77 L771.34,163.09 L774.55,163.39 L777.76,163.7 L780.97,164 L784.17,164.31 L787.38,164.63 L790.59,164.98 L793.8,165.34 L797.01,165.74 L800.22,166.17 L803.42,166.62 L806.63,167.09 L809.84,167.59 L813.05,168.1 L816.26,168.63 L819.47,169.17 L822.67,169.73 L825.88,170.29 L829.09,170.85 L832.3,171.42" fill="none" stroke="#000000" stroke-width="1.1"/><circle cx="716.8" cy="101.05" r="1.8" fill="#22ee22"/><circle cx="716.8" cy="130.92" r="1.8" fill="#0000ee"/><circle cx="716.8" cy="158.26" r="1.8" fill="#ff8000"/><circle cx="755.3" cy="156.74" r="1.8" fill="#ff8000"/><circle cx="755.3" cy="172.94" r="1.8" fill="#0000ee"/><circle cx="793.8" cy="166.86" r="1.8" fill="#22ee22"/><circle cx="793.8" cy="163.82" r="1.8" fill="#0000ee"/><circle cx="832.3" cy="169.39" r="1.8" fill="#ff8000"/><circle cx="832.3" cy="171.42" r="1.8" fill="#22ee22"/><circle cx="716.8" cy="123.83" r="1.8" fill="#ff0000"/><circle cx="755.3" cy="165.34" r="1.8" fill="#ff0000"/><circle cx="793.8" cy="160.79" r="1.8" fill="#ff0000"/><circle cx="832.3" cy="170.41" r="1.8" fill="#ff0000"/><circle cx="716.8" cy="154.21" r="1.8" fill="#000000"/><circle cx="755.3" cy="161.29" r="1.8" fill="#000000"/><circle cx="793.8" cy="165.34" r="1.8" fill="#000000"/><circle cx="832.3" cy="171.42" r="1.8" fill="#000000"/><rect x="716.8" y="97" width="115.5" height="81" fill="none" stroke="#8a8a8a" stroke-width="1.1"/><line x1="714.3" y1="178" x2="716.8" y2="178" stroke="#777" stroke-width="0.9"/><text x="714.3" y="181.4" font-size="9.8" fill="#3a3a3a" stroke="#3a3a3a" stroke-width="0.18" text-anchor="end" font-weight="bold">0.00</text><line x1="714.3" y1="157.75" x2="716.8" y2="157.75" stroke="#777" stroke-width="0.9"/><text x="714.3" y="161.15" font-size="9.8" fill="#3a3a3a" stroke="#3a3a3a" stroke-width="0.18" text-anchor="end" font-weight="bold">0.04</text><line x1="714.3" y1="137.5" x2="716.8" y2="137.5" stroke="#777" stroke-width="0.9"/><text x="714.3" y="140.9" font-size="9.8" fill="#3a3a3a" stroke="#3a3a3a" stroke-width="0.18" text-anchor="end" font-weight="bold">0.08</text><line x1="714.3" y1="117.25" x2="716.8" y2="117.25" stroke="#777" stroke-width="0.9"/><text x="714.3" y="120.65" font-size="9.8" fill="#3a3a3a" stroke="#3a3a3a" stroke-width="0.18" text-anchor="end" font-weight="bold">0.12</text><line x1="714.3" y1="97" x2="716.8" y2="97" stroke="#777" stroke-width="0.9"/><text x="714.3" y="100.4" font-size="9.8" fill="#3a3a3a" stroke="#3a3a3a" stroke-width="0.18" text-anchor="end" font-weight="bold">0.16</text><line x1="716.8" y1="178" x2="716.8" y2="180.5" stroke="#777" stroke-width="0.9"/><text x="716.8" y="189.3" font-size="9.8" fill="#3a3a3a" stroke="#3a3a3a" stroke-width="0.18" text-anchor="middle" font-weight="bold">0.8</text><line x1="755.3" y1="178" x2="755.3" y2="180.5" stroke="#777" stroke-width="0.9"/><text x="755.3" y="189.3" font-size="9.8" fill="#3a3a3a" stroke="#3a3a3a" stroke-width="0.18" text-anchor="middle" font-weight="bold">1.2</text><line x1="793.8" y1="178" x2="793.8" y2="180.5" stroke="#777" stroke-width="0.9"/><text x="793.8" y="189.3" font-size="9.8" fill="#3a3a3a" stroke="#3a3a3a" stroke-width="0.18" text-anchor="middle" font-weight="bold">1.6</text><line x1="832.3" y1="178" x2="832.3" y2="180.5" stroke="#777" stroke-width="0.9"/><text x="832.3" y="189.3" font-size="9.8" fill="#3a3a3a" stroke="#3a3a3a" stroke-width="0.18" text-anchor="middle" font-weight="bold">2.0</text><text x="746.6" y="109.9" font-size="14" fill="#3333ee" stroke="#3333ee" stroke-width="0.25"><tspan font-style="italic">d</tspan><tspan font-size="9.5" dy="4">i</tspan><tspan dy="-4">=</tspan></text><text x="733" y="133.4" font-size="12.6" fill="#3333ee" stroke="#3333ee" stroke-width="0.3">1.20 mm</text><line x1="762" y1="146.9" x2="766.92" y2="138.65" stroke="#111" stroke-width="1.3" stroke-dasharray="3,2"/><path d="M770,133.5 L769.29,140.06 L764.56,137.24 Z" fill="#111"/><text x="0" y="0" font-size="17.1" fill="#222" stroke="#222" stroke-width="0.18" text-anchor="middle" transform="translate(571.3,110) rotate(-90)">Normalized signal intensity</text><text x="723.5" y="249.4" font-size="16.55" fill="#222" stroke="#222" stroke-width="0.18" text-anchor="middle">Distance from the wellbore wall (mm)</text><line x1="308.47" y1="330" x2="308.47" y2="524.8" stroke="#f1f1f1" stroke-width="0.8" stroke-dasharray="1.5,1.5"/><line x1="356.81" y1="330" x2="356.81" y2="524.8" stroke="#f1f1f1" stroke-width="0.8" stroke-dasharray="1.5,1.5"/><line x1="405.15" y1="330" x2="405.15" y2="524.8" stroke="#f1f1f1" stroke-width="0.8" stroke-dasharray="1.5,1.5"/><line x1="453.49" y1="330" x2="453.49" y2="524.8" stroke="#f1f1f1" stroke-width="0.8" stroke-dasharray="1.5,1.5"/><line x1="501.83" y1="330" x2="501.83" y2="524.8" stroke="#f1f1f1" stroke-width="0.8" stroke-dasharray="1.5,1.5"/><line x1="284.3" y1="505.32" x2="526" y2="505.32" stroke="#f1f1f1" stroke-width="0.8" stroke-dasharray="1.5,1.5"/><line x1="284.3" y1="466.36" x2="526" y2="466.36" stroke="#f1f1f1" stroke-width="0.8" stroke-dasharray="1.5,1.5"/><line x1="284.3" y1="427.4" x2="526" y2="427.4" stroke="#f1f1f1" stroke-width="0.8" stroke-dasharray="1.5,1.5"/><line x1="284.3" y1="388.44" x2="526" y2="388.44" stroke="#f1f1f1" stroke-width="0.8" stroke-dasharray="1.5,1.5"/><line x1="284.3" y1="349.48" x2="526" y2="349.48" stroke="#f1f1f1" stroke-width="0.8" stroke-dasharray="1.5,1.5"/><line x1="332.64" y1="330" x2="332.64" y2="524.8" stroke="#d6d6d6" stroke-width="0.9" stroke-dasharray="1.5,1.5"/><line x1="380.98" y1="330" x2="380.98" y2="524.8" stroke="#d6d6d6" stroke-width="0.9" stroke-dasharray="1.5,1.5"/><line x1="429.32" y1="330" x2="429.32" y2="524.8" stroke="#d6d6d6" stroke-width="0.9" stroke-dasharray="1.5,1.5"/><line x1="477.66" y1="330" x2="477.66" y2="524.8" stroke="#d6d6d6" stroke-width="0.9" stroke-dasharray="1.5,1.5"/><line x1="284.3" y1="485.84" x2="526" y2="485.84" stroke="#d6d6d6" stroke-width="0.9" stroke-dasharray="1.5,1.5"/><line x1="284.3" y1="446.88" x2="526" y2="446.88" stroke="#d6d6d6" stroke-width="0.9" stroke-dasharray="1.5,1.5"/><line x1="284.3" y1="407.92" x2="526" y2="407.92" stroke="#d6d6d6" stroke-width="0.9" stroke-dasharray="1.5,1.5"/><line x1="284.3" y1="368.96" x2="526" y2="368.96" stroke="#d6d6d6" stroke-width="0.9" stroke-dasharray="1.5,1.5"/><rect x="319.8" y="499.8" width="27.4" height="25" fill="#f0f0f0"/><line x1="319.59" y1="330" x2="319.59" y2="524.8" stroke="#2424f4" stroke-width="2" stroke-dasharray="3.5,2"/><path d="M284.3,441.04 C285.91,452.07 290.75,494.93 293.97,507.27 C297.19,519.61 300.41,513.6 303.64,515.06 C306.86,516.52 310.08,515.42 313.3,516.03 C316.53,516.65 319.75,517.72 322.97,518.76 C326.19,519.8 329.42,521.85 332.64,522.27 C335.86,522.69 339.09,521.39 342.31,521.29 C345.53,521.2 348.75,521.59 351.98,521.68 C355.2,521.78 358.42,521.81 361.64,521.88 C364.87,521.94 368.09,522.01 371.31,522.07 C374.53,522.14 377.76,522.2 380.98,522.27 C384.2,522.33 387.43,522.43 390.65,522.46 C393.87,522.49 397.09,522.43 400.32,522.46 C403.54,522.49 406.76,522.62 409.98,522.66 C413.21,522.69 416.43,522.62 419.65,522.66 C422.87,522.69 426.1,522.82 429.32,522.85 C432.54,522.88 435.77,522.85 438.99,522.85 C442.21,522.85 445.43,522.85 448.66,522.85 C451.88,522.85 455.1,522.88 458.32,522.85 C461.55,522.82 464.77,522.72 467.99,522.66 C471.21,522.59 474.44,522.49 477.66,522.46 C480.88,522.43 484.11,522.49 487.33,522.46 C490.55,522.43 493.77,522.33 497,522.27 C500.22,522.2 503.44,522.14 506.66,522.07 C509.89,522.01 513.11,521.94 516.33,521.88 C519.55,521.81 524.39,521.72 526,521.68" fill="none" stroke="#000000" stroke-width="1.3"/><path d="M284.3,330 C285.91,346.01 290.75,402.5 293.97,426.04 C297.19,449.57 300.41,458.67 303.64,471.23 C306.86,483.79 310.08,495.19 313.3,501.42 C316.53,507.66 319.75,505.45 322.97,508.63 C326.19,511.81 329.42,518.6 332.64,520.51 C335.86,522.43 339.09,520.12 342.31,520.12 C345.53,520.12 348.75,520.51 351.98,520.51 C355.2,520.51 358.42,520.12 361.64,520.12 C364.87,520.12 368.09,520.38 371.31,520.51 C374.53,520.64 377.76,520.9 380.98,520.9 C384.2,520.9 387.43,520.55 390.65,520.51 C393.87,520.48 397.09,520.64 400.32,520.71 C403.54,520.77 406.76,520.94 409.98,520.9 C413.21,520.87 416.43,520.45 419.65,520.51 C422.87,520.58 426.1,521.23 429.32,521.29 C432.54,521.36 435.77,520.97 438.99,520.9 C442.21,520.84 445.43,520.97 448.66,520.9 C451.88,520.84 455.1,520.51 458.32,520.51 C461.55,520.51 464.77,520.9 467.99,520.9 C471.21,520.9 474.44,520.64 477.66,520.51 C480.88,520.38 484.11,520.12 487.33,520.12 C490.55,520.12 493.77,520.38 497,520.51 C500.22,520.64 503.44,520.9 506.66,520.9 C509.89,520.9 514.72,520.58 516.33,520.51" fill="none" stroke="#ff0000" stroke-width="1.3"/><line x1="284.3" y1="330" x2="526" y2="330" stroke="#383838" stroke-width="1.3"/><line x1="526" y1="330" x2="526" y2="524.8" stroke="#383838" stroke-width="1.3"/><line x1="284.3" y1="329.4" x2="284.3" y2="525.8" stroke="#808080" stroke-width="1.4"/><line x1="282.8" y1="524.8" x2="526" y2="524.8" stroke="#707070" stroke-width="1.5"/><line x1="280.3" y1="524.8" x2="284.3" y2="524.8" stroke="#444" stroke-width="1.1"/><text x="277.3" y="530.2" font-size="16" fill="#222" stroke="#222" stroke-width="0.18" text-anchor="end">0.0</text><line x1="280.3" y1="485.84" x2="284.3" y2="485.84" stroke="#444" stroke-width="1.1"/><text x="277.3" y="491.24" font-size="16" fill="#222" stroke="#222" stroke-width="0.18" text-anchor="end">0.2</text><line x1="280.3" y1="446.88" x2="284.3" y2="446.88" stroke="#444" stroke-width="1.1"/><text x="277.3" y="452.28" font-size="16" fill="#222" stroke="#222" stroke-width="0.18" text-anchor="end">0.4</text><line x1="280.3" y1="407.92" x2="284.3" y2="407.92" stroke="#444" stroke-width="1.1"/><text x="277.3" y="413.32" font-size="16" fill="#222" stroke="#222" stroke-width="0.18" text-anchor="end">0.6</text><line x1="280.3" y1="368.96" x2="284.3" y2="368.96" stroke="#444" stroke-width="1.1"/><text x="277.3" y="374.36" font-size="16" fill="#222" stroke="#222" stroke-width="0.18" text-anchor="end">0.8</text><line x1="280.3" y1="330" x2="284.3" y2="330" stroke="#444" stroke-width="1.1"/><text x="277.3" y="335.4" font-size="16" fill="#222" stroke="#222" stroke-width="0.18" text-anchor="end">1.0</text><line x1="282.1" y1="505.32" x2="284.3" y2="505.32" stroke="#555" stroke-width="1"/><line x1="282.1" y1="466.36" x2="284.3" y2="466.36" stroke="#555" stroke-width="1"/><line x1="282.1" y1="427.4" x2="284.3" y2="427.4" stroke="#555" stroke-width="1"/><line x1="282.1" y1="388.44" x2="284.3" y2="388.44" stroke="#555" stroke-width="1"/><line x1="282.1" y1="349.48" x2="284.3" y2="349.48" stroke="#555" stroke-width="1"/><line x1="284.3" y1="524.8" x2="284.3" y2="528.8" stroke="#444" stroke-width="1.1"/><text x="284.3" y="544.1" font-size="16" fill="#222" stroke="#222" stroke-width="0.18" text-anchor="middle">0</text><line x1="332.64" y1="524.8" x2="332.64" y2="528.8" stroke="#444" stroke-width="1.1"/><text x="332.64" y="544.1" font-size="16" fill="#222" stroke="#222" stroke-width="0.18" text-anchor="middle">2</text><line x1="380.98" y1="524.8" x2="380.98" y2="528.8" stroke="#444" stroke-width="1.1"/><text x="380.98" y="544.1" font-size="16" fill="#222" stroke="#222" stroke-width="0.18" text-anchor="middle">4</text><line x1="429.32" y1="524.8" x2="429.32" y2="528.8" stroke="#444" stroke-width="1.1"/><text x="429.32" y="544.1" font-size="16" fill="#222" stroke="#222" stroke-width="0.18" text-anchor="middle">6</text><line x1="477.66" y1="524.8" x2="477.66" y2="528.8" stroke="#444" stroke-width="1.1"/><text x="477.66" y="544.1" font-size="16" fill="#222" stroke="#222" stroke-width="0.18" text-anchor="middle">8</text><line x1="526" y1="524.8" x2="526" y2="528.8" stroke="#444" stroke-width="1.1"/><text x="526" y="544.1" font-size="16" fill="#222" stroke="#222" stroke-width="0.18" text-anchor="middle">10</text><line x1="308.47" y1="524.8" x2="308.47" y2="526.8" stroke="#666" stroke-width="1"/><line x1="356.81" y1="524.8" x2="356.81" y2="526.8" stroke="#666" stroke-width="1"/><line x1="405.15" y1="524.8" x2="405.15" y2="526.8" stroke="#666" stroke-width="1"/><line x1="453.49" y1="524.8" x2="453.49" y2="526.8" stroke="#666" stroke-width="1"/><line x1="501.83" y1="524.8" x2="501.83" y2="526.8" stroke="#666" stroke-width="1"/><circle cx="284.3" cy="441.04" r="3.6" fill="url(#gk)"/><circle cx="293.97" cy="507.27" r="3.6" fill="url(#gk)"/><circle cx="303.64" cy="515.06" r="3.6" fill="url(#gk)"/><circle cx="313.3" cy="516.03" r="3.6" fill="url(#gk)"/><circle cx="322.97" cy="518.76" r="3.6" fill="url(#gk)"/><circle cx="332.64" cy="522.27" r="3.6" fill="url(#gk)"/><circle cx="342.31" cy="521.29" r="3.6" fill="url(#gk)"/><circle cx="351.98" cy="521.68" r="3.6" fill="url(#gk)"/><circle cx="361.64" cy="521.88" r="3.6" fill="url(#gk)"/><circle cx="371.31" cy="522.07" r="3.6" fill="url(#gk)"/><circle cx="380.98" cy="522.27" r="3.6" fill="url(#gk)"/><circle cx="390.65" cy="522.46" r="3.6" fill="url(#gk)"/><circle cx="400.32" cy="522.46" r="3.6" fill="url(#gk)"/><circle cx="409.98" cy="522.66" r="3.6" fill="url(#gk)"/><circle cx="419.65" cy="522.66" r="3.6" fill="url(#gk)"/><circle cx="429.32" cy="522.85" r="3.6" fill="url(#gk)"/><circle cx="438.99" cy="522.85" r="3.6" fill="url(#gk)"/><circle cx="448.66" cy="522.85" r="3.6" fill="url(#gk)"/><circle cx="458.32" cy="522.85" r="3.6" fill="url(#gk)"/><circle cx="467.99" cy="522.66" r="3.6" fill="url(#gk)"/><circle cx="477.66" cy="522.46" r="3.6" fill="url(#gk)"/><circle cx="487.33" cy="522.46" r="3.6" fill="url(#gk)"/><circle cx="497" cy="522.27" r="3.6" fill="url(#gk)"/><circle cx="506.66" cy="522.07" r="3.6" fill="url(#gk)"/><circle cx="516.33" cy="521.88" r="3.6" fill="url(#gk)"/><circle cx="526" cy="521.68" r="3.6" fill="url(#gk)"/><circle cx="284.3" cy="431.69" r="3.6" fill="url(#go)"/><circle cx="293.97" cy="489.93" r="3.6" fill="url(#go)"/><circle cx="303.64" cy="501.81" r="3.6" fill="url(#go)"/><circle cx="313.3" cy="515.06" r="3.6" fill="url(#go)"/><circle cx="322.97" cy="519.93" r="3.6" fill="url(#go)"/><circle cx="332.64" cy="521.68" r="3.6" fill="url(#go)"/><circle cx="342.31" cy="522.27" r="3.6" fill="url(#go)"/><circle cx="351.98" cy="522.35" r="3.6" fill="url(#go)"/><circle cx="361.64" cy="519.36" r="3.6" fill="url(#go)"/><circle cx="371.31" cy="519.81" r="3.6" fill="url(#go)"/><circle cx="380.98" cy="523.24" r="3.6" fill="url(#go)"/><circle cx="390.65" cy="519.66" r="3.6" fill="url(#go)"/><circle cx="400.32" cy="520.94" r="3.6" fill="url(#go)"/><circle cx="409.98" cy="524.18" r="3.6" fill="url(#go)"/><circle cx="419.65" cy="519.21" r="3.6" fill="url(#go)"/><circle cx="429.32" cy="523.02" r="3.6" fill="url(#go)"/><circle cx="438.99" cy="522.74" r="3.6" fill="url(#go)"/><circle cx="448.66" cy="522.1" r="3.6" fill="url(#go)"/><circle cx="458.32" cy="521.2" r="3.6" fill="url(#go)"/><circle cx="467.99" cy="523.73" r="3.6" fill="url(#go)"/><circle cx="477.66" cy="520.66" r="3.6" fill="url(#go)"/><circle cx="487.33" cy="519.87" r="3.6" fill="url(#go)"/><circle cx="497" cy="521.62" r="3.6" fill="url(#go)"/><circle cx="506.66" cy="520.08" r="3.6" fill="url(#go)"/><circle cx="516.33" cy="521" r="3.6" fill="url(#go)"/><circle cx="526" cy="519.91" r="3.6" fill="url(#go)"/><circle cx="284.3" cy="396.62" r="3.6" fill="url(#gg)"/><circle cx="293.97" cy="462.85" r="3.6" fill="url(#gg)"/><circle cx="303.64" cy="491.1" r="3.6" fill="url(#gg)"/><circle cx="313.3" cy="511.16" r="3.6" fill="url(#gg)"/><circle cx="322.97" cy="518.96" r="3.6" fill="url(#gg)"/><circle cx="332.64" cy="520.12" r="3.6" fill="url(#gg)"/><circle cx="342.31" cy="520.71" r="3.6" fill="url(#gg)"/><circle cx="351.98" cy="520.52" r="3.6" fill="url(#gg)"/><circle cx="361.64" cy="519.83" r="3.6" fill="url(#gg)"/><circle cx="371.31" cy="523.41" r="3.6" fill="url(#gg)"/><circle cx="380.98" cy="518.97" r="3.6" fill="url(#gg)"/><circle cx="390.65" cy="523.35" r="3.6" fill="url(#gg)"/><circle cx="400.32" cy="520.75" r="3.6" fill="url(#gg)"/><circle cx="409.98" cy="523.91" r="3.6" fill="url(#gg)"/><circle cx="419.65" cy="520.28" r="3.6" fill="url(#gg)"/><circle cx="429.32" cy="523.59" r="3.6" fill="url(#gg)"/><circle cx="438.99" cy="520.56" r="3.6" fill="url(#gg)"/><circle cx="448.66" cy="520.46" r="3.6" fill="url(#gg)"/><circle cx="458.32" cy="520.23" r="3.6" fill="url(#gg)"/><circle cx="467.99" cy="522" r="3.6" fill="url(#gg)"/><circle cx="477.66" cy="519.69" r="3.6" fill="url(#gg)"/><circle cx="487.33" cy="519.02" r="3.6" fill="url(#gg)"/><circle cx="497" cy="523.78" r="3.6" fill="url(#gg)"/><circle cx="506.66" cy="521.59" r="3.6" fill="url(#gg)"/><circle cx="516.33" cy="519.18" r="3.6" fill="url(#gg)"/><circle cx="526" cy="520.38" r="3.6" fill="url(#gg)"/><circle cx="284.3" cy="367.6" r="3.6" fill="url(#gb)"/><circle cx="293.97" cy="440.26" r="3.6" fill="url(#gb)"/><circle cx="303.64" cy="480" r="3.6" fill="url(#gb)"/><circle cx="313.3" cy="502.01" r="3.6" fill="url(#gb)"/><circle cx="322.97" cy="516.03" r="3.6" fill="url(#gb)"/><circle cx="332.64" cy="521.29" r="3.6" fill="url(#gb)"/><circle cx="342.31" cy="519.54" r="3.6" fill="url(#gb)"/><circle cx="351.98" cy="519.37" r="3.6" fill="url(#gb)"/><circle cx="361.64" cy="519.24" r="3.6" fill="url(#gb)"/><circle cx="371.31" cy="519.54" r="3.6" fill="url(#gb)"/><circle cx="380.98" cy="523.95" r="3.6" fill="url(#gb)"/><circle cx="390.65" cy="521.18" r="3.6" fill="url(#gb)"/><circle cx="400.32" cy="522.1" r="3.6" fill="url(#gb)"/><circle cx="409.98" cy="521.52" r="3.6" fill="url(#gb)"/><circle cx="419.65" cy="523.7" r="3.6" fill="url(#gb)"/><circle cx="429.32" cy="523.36" r="3.6" fill="url(#gb)"/><circle cx="438.99" cy="521.99" r="3.6" fill="url(#gb)"/><circle cx="448.66" cy="523.2" r="3.6" fill="url(#gb)"/><circle cx="458.32" cy="521.93" r="3.6" fill="url(#gb)"/><circle cx="467.99" cy="524.28" r="3.6" fill="url(#gb)"/><circle cx="477.66" cy="523.94" r="3.6" fill="url(#gb)"/><circle cx="487.33" cy="520.54" r="3.6" fill="url(#gb)"/><circle cx="497" cy="522.11" r="3.6" fill="url(#gb)"/><circle cx="506.66" cy="521.61" r="3.6" fill="url(#gb)"/><circle cx="516.33" cy="520.41" r="3.6" fill="url(#gb)"/><circle cx="526" cy="522.45" r="3.6" fill="url(#gb)"/><circle cx="284.3" cy="359.61" r="3.6" fill="url(#gc)"/><circle cx="293.97" cy="413.76" r="3.6" fill="url(#gc)"/><circle cx="303.64" cy="478.05" r="3.6" fill="url(#gc)"/><circle cx="313.3" cy="505.32" r="3.6" fill="url(#gc)"/><circle cx="322.97" cy="512.92" r="3.6" fill="url(#gc)"/><circle cx="332.64" cy="520.9" r="3.6" fill="url(#gc)"/><circle cx="342.31" cy="520.9" r="3.6" fill="url(#gc)"/><circle cx="351.98" cy="519.18" r="3.6" fill="url(#gc)"/><circle cx="361.64" cy="523.64" r="3.6" fill="url(#gc)"/><circle cx="371.31" cy="524.28" r="3.6" fill="url(#gc)"/><circle cx="380.98" cy="518.96" r="3.6" fill="url(#gc)"/><circle cx="390.65" cy="523.41" r="3.6" fill="url(#gc)"/><circle cx="400.32" cy="523.75" r="3.6" fill="url(#gc)"/><circle cx="409.98" cy="520.86" r="3.6" fill="url(#gc)"/><circle cx="419.65" cy="522.53" r="3.6" fill="url(#gc)"/><circle cx="429.32" cy="519.56" r="3.6" fill="url(#gc)"/><circle cx="438.99" cy="523.15" r="3.6" fill="url(#gc)"/><circle cx="448.66" cy="519.18" r="3.6" fill="url(#gc)"/><circle cx="458.32" cy="522.67" r="3.6" fill="url(#gc)"/><circle cx="467.99" cy="521.13" r="3.6" fill="url(#gc)"/><circle cx="477.66" cy="519.33" r="3.6" fill="url(#gc)"/><circle cx="487.33" cy="520.67" r="3.6" fill="url(#gc)"/><circle cx="497" cy="519.37" r="3.6" fill="url(#gc)"/><circle cx="506.66" cy="520.55" r="3.6" fill="url(#gc)"/><circle cx="516.33" cy="524.15" r="3.6" fill="url(#gc)"/><circle cx="526" cy="519.6" r="3.6" fill="url(#gc)"/><circle cx="284.3" cy="342.47" r="3.6" fill="url(#gm)"/><circle cx="293.97" cy="423.5" r="3.6" fill="url(#gm)"/><circle cx="303.64" cy="474.35" r="3.6" fill="url(#gm)"/><circle cx="313.3" cy="502.79" r="3.6" fill="url(#gm)"/><circle cx="322.97" cy="511.16" r="3.6" fill="url(#gm)"/><circle cx="332.64" cy="520.9" r="3.6" fill="url(#gm)"/><circle cx="342.31" cy="520.9" r="3.6" fill="url(#gm)"/><circle cx="351.98" cy="523.51" r="3.6" fill="url(#gm)"/><circle cx="361.64" cy="520.65" r="3.6" fill="url(#gm)"/><circle cx="371.31" cy="520.95" r="3.6" fill="url(#gm)"/><circle cx="380.98" cy="521.8" r="3.6" fill="url(#gm)"/><circle cx="390.65" cy="523.23" r="3.6" fill="url(#gm)"/><circle cx="400.32" cy="520.09" r="3.6" fill="url(#gm)"/><circle cx="409.98" cy="520" r="3.6" fill="url(#gm)"/><circle cx="419.65" cy="521.62" r="3.6" fill="url(#gm)"/><circle cx="429.32" cy="521.66" r="3.6" fill="url(#gm)"/><circle cx="438.99" cy="523.12" r="3.6" fill="url(#gm)"/><circle cx="448.66" cy="524.39" r="3.6" fill="url(#gm)"/><circle cx="458.32" cy="522.39" r="3.6" fill="url(#gm)"/><circle cx="467.99" cy="521.22" r="3.6" fill="url(#gm)"/><circle cx="477.66" cy="524.03" r="3.6" fill="url(#gm)"/><circle cx="487.33" cy="520.08" r="3.6" fill="url(#gm)"/><circle cx="497" cy="523.14" r="3.6" fill="url(#gm)"/><circle cx="506.66" cy="523.14" r="3.6" fill="url(#gm)"/><circle cx="516.33" cy="524.18" r="3.6" fill="url(#gm)"/><circle cx="526" cy="518.97" r="3.6" fill="url(#gm)"/><circle cx="284.3" cy="330" r="3.6" fill="url(#gr)"/><circle cx="293.97" cy="426.04" r="3.6" fill="url(#gr)"/><circle cx="303.64" cy="471.23" r="3.6" fill="url(#gr)"/><circle cx="313.3" cy="501.42" r="3.6" fill="url(#gr)"/><circle cx="322.97" cy="508.63" r="3.6" fill="url(#gr)"/><circle cx="332.64" cy="520.51" r="3.6" fill="url(#gr)"/><circle cx="342.31" cy="520.12" r="3.6" fill="url(#gr)"/><circle cx="351.98" cy="520.51" r="3.6" fill="url(#gr)"/><circle cx="361.64" cy="520.12" r="3.6" fill="url(#gr)"/><circle cx="371.31" cy="520.51" r="3.6" fill="url(#gr)"/><circle cx="380.98" cy="520.9" r="3.6" fill="url(#gr)"/><circle cx="390.65" cy="520.51" r="3.6" fill="url(#gr)"/><circle cx="400.32" cy="520.71" r="3.6" fill="url(#gr)"/><circle cx="409.98" cy="520.9" r="3.6" fill="url(#gr)"/><circle cx="419.65" cy="520.51" r="3.6" fill="url(#gr)"/><circle cx="429.32" cy="521.29" r="3.6" fill="url(#gr)"/><circle cx="438.99" cy="520.9" r="3.6" fill="url(#gr)"/><circle cx="448.66" cy="520.9" r="3.6" fill="url(#gr)"/><circle cx="458.32" cy="520.51" r="3.6" fill="url(#gr)"/><circle cx="467.99" cy="520.9" r="3.6" fill="url(#gr)"/><circle cx="477.66" cy="520.51" r="3.6" fill="url(#gr)"/><circle cx="487.33" cy="520.12" r="3.6" fill="url(#gr)"/><circle cx="497" cy="520.51" r="3.6" fill="url(#gr)"/><circle cx="506.66" cy="520.9" r="3.6" fill="url(#gr)"/><circle cx="516.33" cy="520.51" r="3.6" fill="url(#gr)"/><circle cx="355.9" cy="340.7" r="3.3" fill="url(#gk)"/><text x="371.6" y="345" font-size="12" fill="#222" stroke="#222" stroke-width="0.18"><tspan font-style="italic">P</tspan><tspan font-size="8.2" dy="3">inj</tspan><tspan dy="-3">=1 MPa</tspan></text><circle cx="445.9" cy="340.7" r="3.3" fill="url(#go)"/><text x="462.1" y="345" font-size="12" fill="#222" stroke="#222" stroke-width="0.18"><tspan font-style="italic">P</tspan><tspan font-size="8.2" dy="3">inj</tspan><tspan dy="-3">=3 MPa</tspan></text><circle cx="355.9" cy="357.3" r="3.3" fill="url(#gg)"/><text x="371.6" y="361.6" font-size="12" fill="#222" stroke="#222" stroke-width="0.18"><tspan font-style="italic">P</tspan><tspan font-size="8.2" dy="3">inj</tspan><tspan dy="-3">=5 MPa</tspan></text><circle cx="445.9" cy="357.3" r="3.3" fill="url(#gb)"/><text x="462.1" y="361.6" font-size="12" fill="#222" stroke="#222" stroke-width="0.18"><tspan font-style="italic">P</tspan><tspan font-size="8.2" dy="3">inj</tspan><tspan dy="-3">=7 MPa</tspan></text><circle cx="355.9" cy="374.6" r="3.3" fill="url(#gc)"/><text x="371.6" y="378.9" font-size="12" fill="#222" stroke="#222" stroke-width="0.18"><tspan font-style="italic">P</tspan><tspan font-size="8.2" dy="3">inj</tspan><tspan dy="-3">=9 MPa</tspan></text><circle cx="445.9" cy="374.6" r="3.3" fill="url(#gm)"/><text x="462.1" y="378.9" font-size="12" fill="#222" stroke="#222" stroke-width="0.18"><tspan font-style="italic">P</tspan><tspan font-size="8.2" dy="3">inj</tspan><tspan dy="-3">=11 MPa</tspan></text><circle cx="355.9" cy="392" r="3.3" fill="url(#gr)"/><text x="371.6" y="396.3" font-size="12" fill="#222" stroke="#222" stroke-width="0.18"><tspan font-style="italic">P</tspan><tspan font-size="8.2" dy="3">inj</tspan><tspan dy="-3">=12 MPa</tspan></text><rect x="323.1" y="417.5" width="49" height="36.9" fill="#fff" stroke="#999" stroke-width="1"/><text x="347.6" y="435.3" font-size="14" fill="#3333ee" stroke="#3333ee" stroke-width="0.25" text-anchor="middle"><tspan font-style="italic">d</tspan><tspan font-size="9.5" dy="3.5">0</tspan><tspan dy="-3.5">=</tspan></text><text x="347.6" y="449.4" font-size="12.7" fill="#3333ee" stroke="#3333ee" stroke-width="0.3" text-anchor="middle">1.46 mm</text><line x1="321.9" y1="475" x2="337.81" y2="464.01" stroke="#111" stroke-width="1.3" stroke-dasharray="3,2"/><path d="M342.75,460.6 L339.38,466.27 L336.25,461.75 Z" fill="#111"/><line x1="346.7" y1="497.7" x2="370.42" y2="485.96" stroke="#111" stroke-width="1.3" stroke-dasharray="3,2"/><path d="M375.8,483.3 L371.64,488.43 L369.2,483.5 Z" fill="#111"/><rect x="399.2" y="416.1" width="112.8" height="79.5" fill="#fff" fill-opacity="0.85"/><line x1="418" y1="416.1" x2="418" y2="495.6" stroke="#e6e6e6" stroke-width="0.8" stroke-dasharray="1.5,1.5"/><line x1="436.8" y1="416.1" x2="436.8" y2="495.6" stroke="#e6e6e6" stroke-width="0.8" stroke-dasharray="1.5,1.5"/><line x1="455.6" y1="416.1" x2="455.6" y2="495.6" stroke="#e6e6e6" stroke-width="0.8" stroke-dasharray="1.5,1.5"/><line x1="474.4" y1="416.1" x2="474.4" y2="495.6" stroke="#e6e6e6" stroke-width="0.8" stroke-dasharray="1.5,1.5"/><line x1="493.2" y1="416.1" x2="493.2" y2="495.6" stroke="#e6e6e6" stroke-width="0.8" stroke-dasharray="1.5,1.5"/><line x1="399.2" y1="426.04" x2="512" y2="426.04" stroke="#e6e6e6" stroke-width="0.8" stroke-dasharray="1.5,1.5"/><line x1="399.2" y1="435.98" x2="512" y2="435.98" stroke="#e6e6e6" stroke-width="0.8" stroke-dasharray="1.5,1.5"/><line x1="399.2" y1="445.91" x2="512" y2="445.91" stroke="#e6e6e6" stroke-width="0.8" stroke-dasharray="1.5,1.5"/><line x1="399.2" y1="455.85" x2="512" y2="455.85" stroke="#e6e6e6" stroke-width="0.8" stroke-dasharray="1.5,1.5"/><line x1="399.2" y1="465.79" x2="512" y2="465.79" stroke="#e6e6e6" stroke-width="0.8" stroke-dasharray="1.5,1.5"/><line x1="399.2" y1="475.73" x2="512" y2="475.73" stroke="#e6e6e6" stroke-width="0.8" stroke-dasharray="1.5,1.5"/><line x1="399.2" y1="485.66" x2="512" y2="485.66" stroke="#e6e6e6" stroke-width="0.8" stroke-dasharray="1.5,1.5"/><line x1="425.1" y1="416.1" x2="425.1" y2="495.6" stroke="#3333ee" stroke-width="1" stroke-dasharray="1.5,1.5"/><ellipse cx="474.4" cy="482.6" rx="6" ry="12" fill="#8c8ce8" fill-opacity="0.55"/><path d="M399.2,417.43 C402.33,419.19 411.73,423.94 418,428.03 C424.27,432.11 430.53,435.42 436.8,441.94 C443.07,448.45 449.33,460.6 455.6,467.11 C461.87,473.63 468.13,478.65 474.4,481.03 C480.67,483.4 486.93,481.58 493.2,481.36 C499.47,481.14 508.87,479.98 512,479.7" fill="none" stroke="#ff0000" stroke-width="1.1"/><path d="M399.2,465.79 L402.33,466.42 L405.47,467.05 L408.6,467.7 L411.73,468.37 L414.87,469.06 L418,469.78 L421.13,470.54 L424.27,471.33 L427.4,472.18 L430.53,473.08 L433.67,474.04 L436.8,475.06 L439.93,476.15 L443.07,477.3 L446.2,478.47 L449.33,479.66 L452.47,480.83 L455.6,481.97 L458.73,483.06 L461.87,484.07 L465,484.99 L468.13,485.8 L471.27,486.47 L474.4,486.99 L477.53,487.33 L480.67,487.52 L483.8,487.55 L486.93,487.45 L490.07,487.24 L493.2,486.92 L496.33,486.52 L499.47,486.04 L502.6,485.5 L505.73,484.91 L508.87,484.3 L512,483.68" fill="none" stroke="#000000" stroke-width="1.1"/><circle cx="399.2" cy="418.09" r="1.8" fill="#0000ee"/><circle cx="399.2" cy="449.23" r="1.8" fill="#22ee22"/><circle cx="399.2" cy="462.48" r="1.8" fill="#ff8000"/><circle cx="436.8" cy="455.19" r="1.8" fill="#22eeee"/><circle cx="436.8" cy="465.79" r="1.8" fill="#0000ee"/><circle cx="436.8" cy="469.1" r="1.8" fill="#eeee22"/><circle cx="436.8" cy="475.73" r="1.8" fill="#22ee22"/><circle cx="436.8" cy="479.04" r="1.8" fill="#ff8000"/><circle cx="474.4" cy="479.7" r="1.8" fill="#22ee22"/><circle cx="474.4" cy="483.01" r="1.8" fill="#eeee22"/><circle cx="474.4" cy="485" r="1.8" fill="#ff8000"/><circle cx="512" cy="477.71" r="1.8" fill="#0000ee"/><circle cx="512" cy="481.69" r="1.8" fill="#22ee22"/><circle cx="512" cy="486.99" r="1.8" fill="#ff8000"/><circle cx="399.2" cy="417.43" r="1.8" fill="#ff0000"/><circle cx="436.8" cy="441.94" r="1.8" fill="#ff0000"/><circle cx="474.4" cy="481.03" r="1.8" fill="#ff0000"/><circle cx="512" cy="479.7" r="1.8" fill="#ff0000"/><circle cx="399.2" cy="465.79" r="1.8" fill="#000000"/><circle cx="436.8" cy="475.06" r="1.8" fill="#000000"/><circle cx="474.4" cy="486.99" r="1.8" fill="#000000"/><circle cx="512" cy="483.68" r="1.8" fill="#000000"/><rect x="399.2" y="416.1" width="112.8" height="79.5" fill="none" stroke="#8a8a8a" stroke-width="1.1"/><line x1="396.7" y1="495.6" x2="399.2" y2="495.6" stroke="#777" stroke-width="0.9"/><text x="396.7" y="499" font-size="9.8" fill="#3a3a3a" stroke="#3a3a3a" stroke-width="0.18" text-anchor="end" font-weight="bold">0.00</text><line x1="396.7" y1="475.73" x2="399.2" y2="475.73" stroke="#777" stroke-width="0.9"/><text x="396.7" y="479.12" font-size="9.8" fill="#3a3a3a" stroke="#3a3a3a" stroke-width="0.18" text-anchor="end" font-weight="bold">0.03</text><line x1="396.7" y1="455.85" x2="399.2" y2="455.85" stroke="#777" stroke-width="0.9"/><text x="396.7" y="459.25" font-size="9.8" fill="#3a3a3a" stroke="#3a3a3a" stroke-width="0.18" text-anchor="end" font-weight="bold">0.06</text><line x1="396.7" y1="435.98" x2="399.2" y2="435.98" stroke="#777" stroke-width="0.9"/><text x="396.7" y="439.38" font-size="9.8" fill="#3a3a3a" stroke="#3a3a3a" stroke-width="0.18" text-anchor="end" font-weight="bold">0.09</text><line x1="396.7" y1="416.1" x2="399.2" y2="416.1" stroke="#777" stroke-width="0.9"/><text x="396.7" y="419.5" font-size="9.8" fill="#3a3a3a" stroke="#3a3a3a" stroke-width="0.18" text-anchor="end" font-weight="bold">0.12</text><line x1="399.2" y1="495.6" x2="399.2" y2="498.1" stroke="#777" stroke-width="0.9"/><text x="399.2" y="506.9" font-size="9.8" fill="#3a3a3a" stroke="#3a3a3a" stroke-width="0.18" text-anchor="middle" font-weight="bold">1.2</text><line x1="436.8" y1="495.6" x2="436.8" y2="498.1" stroke="#777" stroke-width="0.9"/><text x="436.8" y="506.9" font-size="9.8" fill="#3a3a3a" stroke="#3a3a3a" stroke-width="0.18" text-anchor="middle" font-weight="bold">1.6</text><line x1="474.4" y1="495.6" x2="474.4" y2="498.1" stroke="#777" stroke-width="0.9"/><text x="474.4" y="506.9" font-size="9.8" fill="#3a3a3a" stroke="#3a3a3a" stroke-width="0.18" text-anchor="middle" font-weight="bold">2.0</text><line x1="512" y1="495.6" x2="512" y2="498.1" stroke="#777" stroke-width="0.9"/><text x="512" y="506.9" font-size="9.8" fill="#3a3a3a" stroke="#3a3a3a" stroke-width="0.18" text-anchor="middle" font-weight="bold">2.4</text><text x="468" y="432.2" font-size="14" fill="#3333ee" stroke="#3333ee" stroke-width="0.25"><tspan font-style="italic">d</tspan><tspan font-size="9.5" dy="4">i</tspan><tspan dy="-4">=</tspan></text><text x="454.2" y="452" font-size="12.6" fill="#3333ee" stroke="#3333ee" stroke-width="0.3">2.00 mm</text><line x1="474.4" y1="470" x2="482.25" y2="460.19" stroke="#111" stroke-width="1.3" stroke-dasharray="3,2"/><path d="M486,455.5 L484.4,461.9 L480.1,458.47 Z" fill="#111"/><text x="0" y="0" font-size="17.1" fill="#222" stroke="#222" stroke-width="0.18" text-anchor="middle" transform="translate(252.2,430.8) rotate(-90)">Normalized signal intensity</text><text x="405.75" y="569.8" font-size="16.55" fill="#222" stroke="#222" stroke-width="0.18" text-anchor="middle">Distance from the wellbore wall (mm)</text><line x1="626.2" y1="330" x2="626.2" y2="524.2" stroke="#f1f1f1" stroke-width="0.8" stroke-dasharray="1.5,1.5"/><line x1="674.6" y1="330" x2="674.6" y2="524.2" stroke="#f1f1f1" stroke-width="0.8" stroke-dasharray="1.5,1.5"/><line x1="723" y1="330" x2="723" y2="524.2" stroke="#f1f1f1" stroke-width="0.8" stroke-dasharray="1.5,1.5"/><line x1="771.4" y1="330" x2="771.4" y2="524.2" stroke="#f1f1f1" stroke-width="0.8" stroke-dasharray="1.5,1.5"/><line x1="819.8" y1="330" x2="819.8" y2="524.2" stroke="#f1f1f1" stroke-width="0.8" stroke-dasharray="1.5,1.5"/><line x1="602" y1="504.78" x2="844" y2="504.78" stroke="#f1f1f1" stroke-width="0.8" stroke-dasharray="1.5,1.5"/><line x1="602" y1="465.94" x2="844" y2="465.94" stroke="#f1f1f1" stroke-width="0.8" stroke-dasharray="1.5,1.5"/><line x1="602" y1="427.1" x2="844" y2="427.1" stroke="#f1f1f1" stroke-width="0.8" stroke-dasharray="1.5,1.5"/><line x1="602" y1="388.26" x2="844" y2="388.26" stroke="#f1f1f1" stroke-width="0.8" stroke-dasharray="1.5,1.5"/><line x1="602" y1="349.42" x2="844" y2="349.42" stroke="#f1f1f1" stroke-width="0.8" stroke-dasharray="1.5,1.5"/><line x1="650.4" y1="330" x2="650.4" y2="524.2" stroke="#d6d6d6" stroke-width="0.9" stroke-dasharray="1.5,1.5"/><line x1="698.8" y1="330" x2="698.8" y2="524.2" stroke="#d6d6d6" stroke-width="0.9" stroke-dasharray="1.5,1.5"/><line x1="747.2" y1="330" x2="747.2" y2="524.2" stroke="#d6d6d6" stroke-width="0.9" stroke-dasharray="1.5,1.5"/><line x1="795.6" y1="330" x2="795.6" y2="524.2" stroke="#d6d6d6" stroke-width="0.9" stroke-dasharray="1.5,1.5"/><line x1="602" y1="485.36" x2="844" y2="485.36" stroke="#d6d6d6" stroke-width="0.9" stroke-dasharray="1.5,1.5"/><line x1="602" y1="446.52" x2="844" y2="446.52" stroke="#d6d6d6" stroke-width="0.9" stroke-dasharray="1.5,1.5"/><line x1="602" y1="407.68" x2="844" y2="407.68" stroke="#d6d6d6" stroke-width="0.9" stroke-dasharray="1.5,1.5"/><line x1="602" y1="368.84" x2="844" y2="368.84" stroke="#d6d6d6" stroke-width="0.9" stroke-dasharray="1.5,1.5"/><rect x="621" y="499.2" width="32.8" height="25" fill="#f0f0f0"/><line x1="637.33" y1="330" x2="637.33" y2="524.2" stroke="#2424f4" stroke-width="2" stroke-dasharray="3.5,2"/><path d="M602,439.92 C603.61,450.5 608.45,490.47 611.68,503.42 C614.91,516.37 618.13,515.23 621.36,517.6 C624.59,519.96 627.81,517.08 631.04,517.6 C634.27,518.12 637.49,520.12 640.72,520.7 C643.95,521.29 647.17,520.96 650.4,521.09 C653.63,521.22 656.85,521.35 660.08,521.48 C663.31,521.61 666.53,521.74 669.76,521.87 C672.99,522 676.21,522.13 679.44,522.26 C682.67,522.39 685.89,522.55 689.12,522.65 C692.35,522.74 695.57,522.78 698.8,522.84 C702.03,522.91 705.25,523.03 708.48,523.03 C711.71,523.03 714.93,522.91 718.16,522.84 C721.39,522.78 724.61,522.74 727.84,522.65 C731.07,522.55 734.29,522.36 737.52,522.26 C740.75,522.16 743.97,522.13 747.2,522.06 C750.43,522 753.65,521.9 756.88,521.87 C760.11,521.84 763.33,521.84 766.56,521.87 C769.79,521.9 773.01,522 776.24,522.06 C779.47,522.13 782.69,522.23 785.92,522.26 C789.15,522.29 792.37,522.29 795.6,522.26 C798.83,522.23 802.05,522.13 805.28,522.06 C808.51,522 811.73,521.9 814.96,521.87 C818.19,521.84 821.41,521.87 824.64,521.87 C827.87,521.87 831.09,521.87 834.32,521.87 C837.55,521.87 842.39,521.87 844,521.87" fill="none" stroke="#000000" stroke-width="1.3"/><path d="M602,330 C603.61,350.2 608.45,421.6 611.68,451.18 C614.91,480.76 618.13,497.76 621.36,507.5 C624.59,517.24 627.81,507.43 631.04,509.64 C634.27,511.84 637.49,518.6 640.72,520.7 C643.95,522.81 647.17,522.06 650.4,522.26 C653.63,522.45 656.85,521.9 660.08,521.87 C663.31,521.84 666.53,522.06 669.76,522.06 C672.99,522.06 676.21,521.84 679.44,521.87 C682.67,521.9 685.89,522.23 689.12,522.26 C692.35,522.29 695.57,522.13 698.8,522.06 C702.03,522 705.25,521.87 708.48,521.87 C711.71,521.87 714.93,522.06 718.16,522.06 C721.39,522.06 724.61,521.87 727.84,521.87 C731.07,521.87 734.29,522.06 737.52,522.06 C740.75,522.06 743.97,521.93 747.2,521.87 C750.43,521.8 753.65,521.68 756.88,521.68 C760.11,521.68 763.33,521.87 766.56,521.87 C769.79,521.87 773.01,521.74 776.24,521.68 C779.47,521.61 782.69,521.48 785.92,521.48 C789.15,521.48 792.37,521.61 795.6,521.68 C798.83,521.74 802.05,521.9 805.28,521.87 C808.51,521.84 811.73,521.58 814.96,521.48 C818.19,521.38 821.41,521.29 824.64,521.29 C827.87,521.29 831.09,521.51 834.32,521.48 C837.55,521.45 842.39,521.16 844,521.09" fill="none" stroke="#ff0000" stroke-width="1.3"/><line x1="602" y1="330" x2="844" y2="330" stroke="#383838" stroke-width="1.3"/><line x1="844" y1="330" x2="844" y2="524.2" stroke="#383838" stroke-width="1.3"/><line x1="602" y1="329.4" x2="602" y2="525.2" stroke="#808080" stroke-width="1.4"/><line x1="600.5" y1="524.2" x2="844" y2="524.2" stroke="#707070" stroke-width="1.5"/><line x1="598" y1="524.2" x2="602" y2="524.2" stroke="#444" stroke-width="1.1"/><text x="595" y="529.6" font-size="16" fill="#222" stroke="#222" stroke-width="0.18" text-anchor="end">0.0</text><line x1="598" y1="485.36" x2="602" y2="485.36" stroke="#444" stroke-width="1.1"/><text x="595" y="490.76" font-size="16" fill="#222" stroke="#222" stroke-width="0.18" text-anchor="end">0.2</text><line x1="598" y1="446.52" x2="602" y2="446.52" stroke="#444" stroke-width="1.1"/><text x="595" y="451.92" font-size="16" fill="#222" stroke="#222" stroke-width="0.18" text-anchor="end">0.4</text><line x1="598" y1="407.68" x2="602" y2="407.68" stroke="#444" stroke-width="1.1"/><text x="595" y="413.08" font-size="16" fill="#222" stroke="#222" stroke-width="0.18" text-anchor="end">0.6</text><line x1="598" y1="368.84" x2="602" y2="368.84" stroke="#444" stroke-width="1.1"/><text x="595" y="374.24" font-size="16" fill="#222" stroke="#222" stroke-width="0.18" text-anchor="end">0.8</text><line x1="598" y1="330" x2="602" y2="330" stroke="#444" stroke-width="1.1"/><text x="595" y="335.4" font-size="16" fill="#222" stroke="#222" stroke-width="0.18" text-anchor="end">1.0</text><line x1="599.8" y1="504.78" x2="602" y2="504.78" stroke="#555" stroke-width="1"/><line x1="599.8" y1="465.94" x2="602" y2="465.94" stroke="#555" stroke-width="1"/><line x1="599.8" y1="427.1" x2="602" y2="427.1" stroke="#555" stroke-width="1"/><line x1="599.8" y1="388.26" x2="602" y2="388.26" stroke="#555" stroke-width="1"/><line x1="599.8" y1="349.42" x2="602" y2="349.42" stroke="#555" stroke-width="1"/><line x1="602" y1="524.2" x2="602" y2="528.2" stroke="#444" stroke-width="1.1"/><text x="602" y="543.5" font-size="16" fill="#222" stroke="#222" stroke-width="0.18" text-anchor="middle">0</text><line x1="650.4" y1="524.2" x2="650.4" y2="528.2" stroke="#444" stroke-width="1.1"/><text x="650.4" y="543.5" font-size="16" fill="#222" stroke="#222" stroke-width="0.18" text-anchor="middle">2</text><line x1="698.8" y1="524.2" x2="698.8" y2="528.2" stroke="#444" stroke-width="1.1"/><text x="698.8" y="543.5" font-size="16" fill="#222" stroke="#222" stroke-width="0.18" text-anchor="middle">4</text><line x1="747.2" y1="524.2" x2="747.2" y2="528.2" stroke="#444" stroke-width="1.1"/><text x="747.2" y="543.5" font-size="16" fill="#222" stroke="#222" stroke-width="0.18" text-anchor="middle">6</text><line x1="795.6" y1="524.2" x2="795.6" y2="528.2" stroke="#444" stroke-width="1.1"/><text x="795.6" y="543.5" font-size="16" fill="#222" stroke="#222" stroke-width="0.18" text-anchor="middle">8</text><line x1="844" y1="524.2" x2="844" y2="528.2" stroke="#444" stroke-width="1.1"/><text x="844" y="543.5" font-size="16" fill="#222" stroke="#222" stroke-width="0.18" text-anchor="middle">10</text><line x1="626.2" y1="524.2" x2="626.2" y2="526.2" stroke="#666" stroke-width="1"/><line x1="674.6" y1="524.2" x2="674.6" y2="526.2" stroke="#666" stroke-width="1"/><line x1="723" y1="524.2" x2="723" y2="526.2" stroke="#666" stroke-width="1"/><line x1="771.4" y1="524.2" x2="771.4" y2="526.2" stroke="#666" stroke-width="1"/><line x1="819.8" y1="524.2" x2="819.8" y2="526.2" stroke="#666" stroke-width="1"/><circle cx="602" cy="439.92" r="3.6" fill="url(#gk)"/><circle cx="611.68" cy="503.42" r="3.6" fill="url(#gk)"/><circle cx="621.36" cy="517.6" r="3.6" fill="url(#gk)"/><circle cx="631.04" cy="517.6" r="3.6" fill="url(#gk)"/><circle cx="640.72" cy="520.7" r="3.6" fill="url(#gk)"/><circle cx="650.4" cy="521.09" r="3.6" fill="url(#gk)"/><circle cx="660.08" cy="521.48" r="3.6" fill="url(#gk)"/><circle cx="669.76" cy="521.87" r="3.6" fill="url(#gk)"/><circle cx="679.44" cy="522.26" r="3.6" fill="url(#gk)"/><circle cx="689.12" cy="522.65" r="3.6" fill="url(#gk)"/><circle cx="698.8" cy="522.84" r="3.6" fill="url(#gk)"/><circle cx="708.48" cy="523.03" r="3.6" fill="url(#gk)"/><circle cx="718.16" cy="522.84" r="3.6" fill="url(#gk)"/><circle cx="727.84" cy="522.65" r="3.6" fill="url(#gk)"/><circle cx="737.52" cy="522.26" r="3.6" fill="url(#gk)"/><circle cx="747.2" cy="522.06" r="3.6" fill="url(#gk)"/><circle cx="756.88" cy="521.87" r="3.6" fill="url(#gk)"/><circle cx="766.56" cy="521.87" r="3.6" fill="url(#gk)"/><circle cx="776.24" cy="522.06" r="3.6" fill="url(#gk)"/><circle cx="785.92" cy="522.26" r="3.6" fill="url(#gk)"/><circle cx="795.6" cy="522.26" r="3.6" fill="url(#gk)"/><circle cx="805.28" cy="522.06" r="3.6" fill="url(#gk)"/><circle cx="814.96" cy="521.87" r="3.6" fill="url(#gk)"/><circle cx="824.64" cy="521.87" r="3.6" fill="url(#gk)"/><circle cx="834.32" cy="521.87" r="3.6" fill="url(#gk)"/><circle cx="844" cy="521.87" r="3.6" fill="url(#gk)"/><circle cx="602" cy="391.56" r="3.6" fill="url(#go)"/><circle cx="611.68" cy="482.25" r="3.6" fill="url(#go)"/><circle cx="621.36" cy="518.96" r="3.6" fill="url(#go)"/><circle cx="631.04" cy="519.54" r="3.6" fill="url(#go)"/><circle cx="640.72" cy="520.51" r="3.6" fill="url(#go)"/><circle cx="650.4" cy="520.83" r="3.6" fill="url(#go)"/><circle cx="660.08" cy="519.73" r="3.6" fill="url(#go)"/><circle cx="669.76" cy="519.75" r="3.6" fill="url(#go)"/><circle cx="679.44" cy="519.11" r="3.6" fill="url(#go)"/><circle cx="689.12" cy="522.26" r="3.6" fill="url(#go)"/><circle cx="698.8" cy="518.56" r="3.6" fill="url(#go)"/><circle cx="708.48" cy="520.73" r="3.6" fill="url(#go)"/><circle cx="718.16" cy="519.75" r="3.6" fill="url(#go)"/><circle cx="727.84" cy="519.71" r="3.6" fill="url(#go)"/><circle cx="737.52" cy="518.76" r="3.6" fill="url(#go)"/><circle cx="747.2" cy="522.32" r="3.6" fill="url(#go)"/><circle cx="756.88" cy="521.82" r="3.6" fill="url(#go)"/><circle cx="766.56" cy="519.91" r="3.6" fill="url(#go)"/><circle cx="776.24" cy="520.63" r="3.6" fill="url(#go)"/><circle cx="785.92" cy="519.73" r="3.6" fill="url(#go)"/><circle cx="795.6" cy="521.83" r="3.6" fill="url(#go)"/><circle cx="805.28" cy="518.62" r="3.6" fill="url(#go)"/><circle cx="814.96" cy="523.75" r="3.6" fill="url(#go)"/><circle cx="824.64" cy="519.89" r="3.6" fill="url(#go)"/><circle cx="834.32" cy="521.77" r="3.6" fill="url(#go)"/><circle cx="844" cy="523.67" r="3.6" fill="url(#go)"/><circle cx="602" cy="375.25" r="3.6" fill="url(#gg)"/><circle cx="611.68" cy="473.13" r="3.6" fill="url(#gg)"/><circle cx="621.36" cy="509.44" r="3.6" fill="url(#gg)"/><circle cx="631.04" cy="511.19" r="3.6" fill="url(#gg)"/><circle cx="640.72" cy="521.09" r="3.6" fill="url(#gg)"/><circle cx="650.4" cy="520.94" r="3.6" fill="url(#gg)"/><circle cx="660.08" cy="520.63" r="3.6" fill="url(#gg)"/><circle cx="669.76" cy="519.23" r="3.6" fill="url(#gg)"/><circle cx="679.44" cy="518.93" r="3.6" fill="url(#gg)"/><circle cx="689.12" cy="519.01" r="3.6" fill="url(#gg)"/><circle cx="698.8" cy="521.83" r="3.6" fill="url(#gg)"/><circle cx="708.48" cy="518.65" r="3.6" fill="url(#gg)"/><circle cx="718.16" cy="521.51" r="3.6" fill="url(#gg)"/><circle cx="727.84" cy="522.15" r="3.6" fill="url(#gg)"/><circle cx="737.52" cy="523.3" r="3.6" fill="url(#gg)"/><circle cx="747.2" cy="521.03" r="3.6" fill="url(#gg)"/><circle cx="756.88" cy="522.97" r="3.6" fill="url(#gg)"/><circle cx="766.56" cy="522.32" r="3.6" fill="url(#gg)"/><circle cx="776.24" cy="520.49" r="3.6" fill="url(#gg)"/><circle cx="785.92" cy="519.59" r="3.6" fill="url(#gg)"/><circle cx="795.6" cy="519.72" r="3.6" fill="url(#gg)"/><circle cx="805.28" cy="523.34" r="3.6" fill="url(#gg)"/><circle cx="814.96" cy="523.48" r="3.6" fill="url(#gg)"/><circle cx="824.64" cy="522.42" r="3.6" fill="url(#gg)"/><circle cx="834.32" cy="520.81" r="3.6" fill="url(#gg)"/><circle cx="844" cy="519.25" r="3.6" fill="url(#gg)"/><circle cx="602" cy="348.25" r="3.6" fill="url(#gb)"/><circle cx="611.68" cy="465.94" r="3.6" fill="url(#gb)"/><circle cx="621.36" cy="514.3" r="3.6" fill="url(#gb)"/><circle cx="631.04" cy="507.11" r="3.6" fill="url(#gb)"/><circle cx="640.72" cy="520.9" r="3.6" fill="url(#gb)"/><circle cx="650.4" cy="520.71" r="3.6" fill="url(#gb)"/><circle cx="660.08" cy="520.37" r="3.6" fill="url(#gb)"/><circle cx="669.76" cy="519.37" r="3.6" fill="url(#gb)"/><circle cx="679.44" cy="522.3" r="3.6" fill="url(#gb)"/><circle cx="689.12" cy="520.27" r="3.6" fill="url(#gb)"/><circle cx="698.8" cy="518.97" r="3.6" fill="url(#gb)"/><circle cx="708.48" cy="518.87" r="3.6" fill="url(#gb)"/><circle cx="718.16" cy="522.8" r="3.6" fill="url(#gb)"/><circle cx="727.84" cy="520.27" r="3.6" fill="url(#gb)"/><circle cx="737.52" cy="520.46" r="3.6" fill="url(#gb)"/><circle cx="747.2" cy="521.07" r="3.6" fill="url(#gb)"/><circle cx="756.88" cy="518.56" r="3.6" fill="url(#gb)"/><circle cx="766.56" cy="520.94" r="3.6" fill="url(#gb)"/><circle cx="776.24" cy="521.39" r="3.6" fill="url(#gb)"/><circle cx="785.92" cy="518.68" r="3.6" fill="url(#gb)"/><circle cx="795.6" cy="520.36" r="3.6" fill="url(#gb)"/><circle cx="805.28" cy="522.17" r="3.6" fill="url(#gb)"/><circle cx="814.96" cy="522.13" r="3.6" fill="url(#gb)"/><circle cx="824.64" cy="521.11" r="3.6" fill="url(#gb)"/><circle cx="834.32" cy="523.53" r="3.6" fill="url(#gb)"/><circle cx="844" cy="520.51" r="3.6" fill="url(#gb)"/><circle cx="602" cy="337.77" r="3.6" fill="url(#gc)"/><circle cx="611.68" cy="464.39" r="3.6" fill="url(#gc)"/><circle cx="621.36" cy="506.14" r="3.6" fill="url(#gc)"/><circle cx="631.04" cy="508.08" r="3.6" fill="url(#gc)"/><circle cx="640.72" cy="521.68" r="3.6" fill="url(#gc)"/><circle cx="650.4" cy="523.39" r="3.6" fill="url(#gc)"/><circle cx="660.08" cy="522.65" r="3.6" fill="url(#gc)"/><circle cx="669.76" cy="522.16" r="3.6" fill="url(#gc)"/><circle cx="679.44" cy="518.92" r="3.6" fill="url(#gc)"/><circle cx="689.12" cy="521.11" r="3.6" fill="url(#gc)"/><circle cx="698.8" cy="519.9" r="3.6" fill="url(#gc)"/><circle cx="708.48" cy="523.27" r="3.6" fill="url(#gc)"/><circle cx="718.16" cy="521.04" r="3.6" fill="url(#gc)"/><circle cx="727.84" cy="519.23" r="3.6" fill="url(#gc)"/><circle cx="737.52" cy="520.97" r="3.6" fill="url(#gc)"/><circle cx="747.2" cy="518.67" r="3.6" fill="url(#gc)"/><circle cx="756.88" cy="519.02" r="3.6" fill="url(#gc)"/><circle cx="766.56" cy="521.79" r="3.6" fill="url(#gc)"/><circle cx="776.24" cy="523.81" r="3.6" fill="url(#gc)"/><circle cx="785.92" cy="519.7" r="3.6" fill="url(#gc)"/><circle cx="795.6" cy="523.12" r="3.6" fill="url(#gc)"/><circle cx="805.28" cy="523.76" r="3.6" fill="url(#gc)"/><circle cx="814.96" cy="519.84" r="3.6" fill="url(#gc)"/><circle cx="824.64" cy="519.23" r="3.6" fill="url(#gc)"/><circle cx="834.32" cy="519.26" r="3.6" fill="url(#gc)"/><circle cx="844" cy="518.63" r="3.6" fill="url(#gc)"/><circle cx="602" cy="331.94" r="3.6" fill="url(#gm)"/><circle cx="611.68" cy="456.62" r="3.6" fill="url(#gm)"/><circle cx="621.36" cy="512.55" r="3.6" fill="url(#gm)"/><circle cx="631.04" cy="510.22" r="3.6" fill="url(#gm)"/><circle cx="640.72" cy="521.29" r="3.6" fill="url(#gm)"/><circle cx="650.4" cy="523.74" r="3.6" fill="url(#gm)"/><circle cx="660.08" cy="523.2" r="3.6" fill="url(#gm)"/><circle cx="669.76" cy="521.68" r="3.6" fill="url(#gm)"/><circle cx="679.44" cy="520.09" r="3.6" fill="url(#gm)"/><circle cx="689.12" cy="523.06" r="3.6" fill="url(#gm)"/><circle cx="698.8" cy="523.2" r="3.6" fill="url(#gm)"/><circle cx="708.48" cy="522.55" r="3.6" fill="url(#gm)"/><circle cx="718.16" cy="519.69" r="3.6" fill="url(#gm)"/><circle cx="727.84" cy="523.01" r="3.6" fill="url(#gm)"/><circle cx="737.52" cy="519.78" r="3.6" fill="url(#gm)"/><circle cx="747.2" cy="520.21" r="3.6" fill="url(#gm)"/><circle cx="756.88" cy="523.07" r="3.6" fill="url(#gm)"/><circle cx="766.56" cy="520.9" r="3.6" fill="url(#gm)"/><circle cx="776.24" cy="521.38" r="3.6" fill="url(#gm)"/><circle cx="785.92" cy="521.57" r="3.6" fill="url(#gm)"/><circle cx="795.6" cy="518.39" r="3.6" fill="url(#gm)"/><circle cx="805.28" cy="523.31" r="3.6" fill="url(#gm)"/><circle cx="814.96" cy="523.7" r="3.6" fill="url(#gm)"/><circle cx="824.64" cy="518.7" r="3.6" fill="url(#gm)"/><circle cx="834.32" cy="521.62" r="3.6" fill="url(#gm)"/><circle cx="844" cy="522.73" r="3.6" fill="url(#gm)"/><circle cx="602" cy="330" r="3.6" fill="url(#gr)"/><circle cx="611.68" cy="451.18" r="3.6" fill="url(#gr)"/><circle cx="621.36" cy="507.5" r="3.6" fill="url(#gr)"/><circle cx="631.04" cy="509.64" r="3.6" fill="url(#gr)"/><circle cx="640.72" cy="520.7" r="3.6" fill="url(#gr)"/><circle cx="650.4" cy="522.26" r="3.6" fill="url(#gr)"/><circle cx="660.08" cy="521.87" r="3.6" fill="url(#gr)"/><circle cx="669.76" cy="522.06" r="3.6" fill="url(#gr)"/><circle cx="679.44" cy="521.87" r="3.6" fill="url(#gr)"/><circle cx="689.12" cy="522.26" r="3.6" fill="url(#gr)"/><circle cx="698.8" cy="522.06" r="3.6" fill="url(#gr)"/><circle cx="708.48" cy="521.87" r="3.6" fill="url(#gr)"/><circle cx="718.16" cy="522.06" r="3.6" fill="url(#gr)"/><circle cx="727.84" cy="521.87" r="3.6" fill="url(#gr)"/><circle cx="737.52" cy="522.06" r="3.6" fill="url(#gr)"/><circle cx="747.2" cy="521.87" r="3.6" fill="url(#gr)"/><circle cx="756.88" cy="521.68" r="3.6" fill="url(#gr)"/><circle cx="766.56" cy="521.87" r="3.6" fill="url(#gr)"/><circle cx="776.24" cy="521.68" r="3.6" fill="url(#gr)"/><circle cx="785.92" cy="521.48" r="3.6" fill="url(#gr)"/><circle cx="795.6" cy="521.68" r="3.6" fill="url(#gr)"/><circle cx="805.28" cy="521.87" r="3.6" fill="url(#gr)"/><circle cx="814.96" cy="521.48" r="3.6" fill="url(#gr)"/><circle cx="824.64" cy="521.29" r="3.6" fill="url(#gr)"/><circle cx="834.32" cy="521.48" r="3.6" fill="url(#gr)"/><circle cx="844" cy="521.09" r="3.6" fill="url(#gr)"/><circle cx="664.3" cy="340.7" r="3.3" fill="url(#gk)"/><text x="681.2" y="345" font-size="12" fill="#222" stroke="#222" stroke-width="0.18"><tspan font-style="italic">P</tspan><tspan font-size="8.2" dy="3">inj</tspan><tspan dy="-3">=1 MPa</tspan></text><circle cx="754.6" cy="340.7" r="3.3" fill="url(#go)"/><text x="771.2" y="345" font-size="12" fill="#222" stroke="#222" stroke-width="0.18"><tspan font-style="italic">P</tspan><tspan font-size="8.2" dy="3">inj</tspan><tspan dy="-3">=3 MPa</tspan></text><circle cx="664.3" cy="357.3" r="3.3" fill="url(#gg)"/><text x="681.2" y="361.6" font-size="12" fill="#222" stroke="#222" stroke-width="0.18"><tspan font-style="italic">P</tspan><tspan font-size="8.2" dy="3">inj</tspan><tspan dy="-3">=5 MPa</tspan></text><circle cx="754.6" cy="357.3" r="3.3" fill="url(#gb)"/><text x="771.2" y="361.6" font-size="12" fill="#222" stroke="#222" stroke-width="0.18"><tspan font-style="italic">P</tspan><tspan font-size="8.2" dy="3">inj</tspan><tspan dy="-3">=7 MPa</tspan></text><circle cx="664.3" cy="374.7" r="3.3" fill="url(#gc)"/><text x="681.2" y="379" font-size="12" fill="#222" stroke="#222" stroke-width="0.18"><tspan font-style="italic">P</tspan><tspan font-size="8.2" dy="3">inj</tspan><tspan dy="-3">=9 MPa</tspan></text><circle cx="754.6" cy="374.7" r="3.3" fill="url(#gm)"/><text x="771.2" y="379" font-size="12" fill="#222" stroke="#222" stroke-width="0.18"><tspan font-style="italic">P</tspan><tspan font-size="8.2" dy="3">inj</tspan><tspan dy="-3">=11 MPa</tspan></text><circle cx="664.3" cy="392.4" r="3.3" fill="url(#gr)"/><text x="681.2" y="396.7" font-size="12" fill="#222" stroke="#222" stroke-width="0.18"><tspan font-style="italic">P</tspan><tspan font-size="8.2" dy="3">inj</tspan><tspan dy="-3">=12 MPa</tspan></text><rect x="642.1" y="419.75" width="49.5" height="36.75" fill="#fff" stroke="#999" stroke-width="1"/><text x="666.85" y="437.55" font-size="14" fill="#3333ee" stroke="#3333ee" stroke-width="0.25" text-anchor="middle"><tspan font-style="italic">d</tspan><tspan font-size="9.5" dy="3.5">0</tspan><tspan dy="-3.5">=</tspan></text><text x="666.85" y="451.5" font-size="12.7" fill="#3333ee" stroke="#3333ee" stroke-width="0.3" text-anchor="middle">1.46 mm</text><line x1="641.9" y1="472.5" x2="655.64" y2="463.13" stroke="#111" stroke-width="1.3" stroke-dasharray="3,2"/><path d="M660.6,459.75 L657.19,465.4 L654.09,460.86 Z" fill="#111"/><line x1="655.2" y1="504.3" x2="687.17" y2="490.83" stroke="#111" stroke-width="1.3" stroke-dasharray="3,2"/><path d="M692.7,488.5 L688.24,493.36 L686.1,488.3 Z" fill="#111"/><rect x="720.5" y="418.9" width="112.8" height="79.4" fill="#fff" fill-opacity="0.85"/><line x1="739.3" y1="418.9" x2="739.3" y2="498.3" stroke="#e6e6e6" stroke-width="0.8" stroke-dasharray="1.5,1.5"/><line x1="758.1" y1="418.9" x2="758.1" y2="498.3" stroke="#e6e6e6" stroke-width="0.8" stroke-dasharray="1.5,1.5"/><line x1="776.9" y1="418.9" x2="776.9" y2="498.3" stroke="#e6e6e6" stroke-width="0.8" stroke-dasharray="1.5,1.5"/><line x1="795.7" y1="418.9" x2="795.7" y2="498.3" stroke="#e6e6e6" stroke-width="0.8" stroke-dasharray="1.5,1.5"/><line x1="814.5" y1="418.9" x2="814.5" y2="498.3" stroke="#e6e6e6" stroke-width="0.8" stroke-dasharray="1.5,1.5"/><line x1="720.5" y1="428.82" x2="833.3" y2="428.82" stroke="#e6e6e6" stroke-width="0.8" stroke-dasharray="1.5,1.5"/><line x1="720.5" y1="438.75" x2="833.3" y2="438.75" stroke="#e6e6e6" stroke-width="0.8" stroke-dasharray="1.5,1.5"/><line x1="720.5" y1="448.68" x2="833.3" y2="448.68" stroke="#e6e6e6" stroke-width="0.8" stroke-dasharray="1.5,1.5"/><line x1="720.5" y1="458.6" x2="833.3" y2="458.6" stroke="#e6e6e6" stroke-width="0.8" stroke-dasharray="1.5,1.5"/><line x1="720.5" y1="468.52" x2="833.3" y2="468.52" stroke="#e6e6e6" stroke-width="0.8" stroke-dasharray="1.5,1.5"/><line x1="720.5" y1="478.45" x2="833.3" y2="478.45" stroke="#e6e6e6" stroke-width="0.8" stroke-dasharray="1.5,1.5"/><line x1="720.5" y1="488.38" x2="833.3" y2="488.38" stroke="#e6e6e6" stroke-width="0.8" stroke-dasharray="1.5,1.5"/><line x1="784.6" y1="418.9" x2="784.6" y2="498.3" stroke="#3333ee" stroke-width="1" stroke-dasharray="1.5,1.5"/><ellipse cx="795.7" cy="485.9" rx="5.6" ry="11.5" fill="#8c8ce8" fill-opacity="0.55"/><path d="M720.5,440.74 C722.07,441.84 726.77,445.81 729.9,447.35 C733.03,448.9 736.17,449.56 739.3,450 C742.43,450.44 745.57,450.22 748.7,450 C751.83,449.78 754.97,447.68 758.1,448.68 C761.23,449.67 764.37,452.42 767.5,455.95 C770.63,459.48 773.77,465.66 776.9,469.85 C780.03,474.04 783.17,478.34 786.3,481.1 C789.43,483.85 791,484.52 795.7,486.39 C800.4,488.26 808.23,491.02 814.5,492.35 C820.77,493.67 830.17,494 833.3,494.33" fill="none" stroke="#ff0000" stroke-width="1.1"/><path d="M720.5,475.8 C722.07,476.08 726.77,476.99 729.9,477.46 C733.03,477.92 736.17,478.53 739.3,478.58 C742.43,478.64 745.57,478.25 748.7,477.79 C751.83,477.33 753.4,475.25 758.1,475.8 C762.8,476.35 770.63,479.33 776.9,481.1 C783.17,482.86 789.43,485.32 795.7,486.39 C801.97,487.46 808.23,487.29 814.5,487.51 C820.77,487.74 830.17,487.68 833.3,487.71" fill="none" stroke="#000000" stroke-width="1.1"/><circle cx="720.5" cy="436.76" r="1.8" fill="#22eeee"/><circle cx="720.5" cy="448.01" r="1.8" fill="#22ee22"/><circle cx="720.5" cy="458.6" r="1.8" fill="#ee22ee"/><circle cx="720.5" cy="464.56" r="1.8" fill="#0000ee"/><circle cx="720.5" cy="480.44" r="1.8" fill="#ff8000"/><circle cx="758.1" cy="440.07" r="1.8" fill="#0000ee"/><circle cx="758.1" cy="443.38" r="1.8" fill="#22eeee"/><circle cx="758.1" cy="450.66" r="1.8" fill="#ee22ee"/><circle cx="758.1" cy="453.97" r="1.8" fill="#22ee22"/><circle cx="758.1" cy="482.42" r="1.8" fill="#ff8000"/><circle cx="795.7" cy="489.7" r="1.8" fill="#22eeee"/><circle cx="833.3" cy="485.73" r="1.8" fill="#ff8000"/><circle cx="833.3" cy="487.05" r="1.8" fill="#0000ee"/><circle cx="833.3" cy="489.04" r="1.8" fill="#22ee22"/><circle cx="833.3" cy="491.68" r="1.8" fill="#ee22ee"/><circle cx="720.5" cy="440.74" r="1.8" fill="#ff0000"/><circle cx="758.1" cy="448.68" r="1.8" fill="#ff0000"/><circle cx="795.7" cy="486.39" r="1.8" fill="#ff0000"/><circle cx="833.3" cy="494.33" r="1.8" fill="#ff0000"/><circle cx="720.5" cy="475.8" r="1.8" fill="#000000"/><circle cx="758.1" cy="475.8" r="1.8" fill="#000000"/><circle cx="795.7" cy="486.39" r="1.8" fill="#000000"/><circle cx="833.3" cy="487.71" r="1.8" fill="#000000"/><rect x="720.5" y="418.9" width="112.8" height="79.4" fill="none" stroke="#8a8a8a" stroke-width="1.1"/><line x1="718" y1="498.3" x2="720.5" y2="498.3" stroke="#777" stroke-width="0.9"/><text x="718" y="501.7" font-size="9.8" fill="#3a3a3a" stroke="#3a3a3a" stroke-width="0.18" text-anchor="end" font-weight="bold">0.00</text><line x1="718" y1="471.83" x2="720.5" y2="471.83" stroke="#777" stroke-width="0.9"/><text x="718" y="475.23" font-size="9.8" fill="#3a3a3a" stroke="#3a3a3a" stroke-width="0.18" text-anchor="end" font-weight="bold">0.04</text><line x1="718" y1="445.37" x2="720.5" y2="445.37" stroke="#777" stroke-width="0.9"/><text x="718" y="448.77" font-size="9.8" fill="#3a3a3a" stroke="#3a3a3a" stroke-width="0.18" text-anchor="end" font-weight="bold">0.08</text><line x1="718" y1="418.9" x2="720.5" y2="418.9" stroke="#777" stroke-width="0.9"/><text x="718" y="422.3" font-size="9.8" fill="#3a3a3a" stroke="#3a3a3a" stroke-width="0.18" text-anchor="end" font-weight="bold">0.12</text><line x1="720.5" y1="498.3" x2="720.5" y2="500.8" stroke="#777" stroke-width="0.9"/><text x="720.5" y="509.6" font-size="9.8" fill="#3a3a3a" stroke="#3a3a3a" stroke-width="0.18" text-anchor="middle" font-weight="bold">0.8</text><line x1="758.1" y1="498.3" x2="758.1" y2="500.8" stroke="#777" stroke-width="0.9"/><text x="758.1" y="509.6" font-size="9.8" fill="#3a3a3a" stroke="#3a3a3a" stroke-width="0.18" text-anchor="middle" font-weight="bold">1.2</text><line x1="795.7" y1="498.3" x2="795.7" y2="500.8" stroke="#777" stroke-width="0.9"/><text x="795.7" y="509.6" font-size="9.8" fill="#3a3a3a" stroke="#3a3a3a" stroke-width="0.18" text-anchor="middle" font-weight="bold">1.6</text><line x1="833.3" y1="498.3" x2="833.3" y2="500.8" stroke="#777" stroke-width="0.9"/><text x="833.3" y="509.6" font-size="9.8" fill="#3a3a3a" stroke="#3a3a3a" stroke-width="0.18" text-anchor="middle" font-weight="bold">2.0</text><text x="799" y="441.6" font-size="14" fill="#3333ee" stroke="#3333ee" stroke-width="0.25"><tspan font-style="italic">d</tspan><tspan font-size="9.5" dy="4">i</tspan><tspan dy="-4">=</tspan></text><text x="786.3" y="460.3" font-size="12.6" fill="#3333ee" stroke="#3333ee" stroke-width="0.3">1.60 mm</text><line x1="797.2" y1="474.3" x2="804.13" y2="466.09" stroke="#111" stroke-width="1.3" stroke-dasharray="3,2"/><path d="M808,461.5 L806.23,467.86 L802.03,464.31 Z" fill="#111"/><text x="0" y="0" font-size="17.1" fill="#222" stroke="#222" stroke-width="0.18" text-anchor="middle" transform="translate(571.3,429.9) rotate(-90)">Normalized signal intensity</text><text x="723.5" y="569.5" font-size="16.55" fill="#222" stroke="#222" stroke-width="0.18" text-anchor="middle">Distance from the wellbore wall (mm)</text><text x="380.9" y="292.8" font-size="17.1" fill="#222" stroke="#222" stroke-width="0.18" text-anchor="middle">(c) Along HF direction</text><text x="324" y="313.2" font-size="17.1" fill="#222" stroke="#222" stroke-width="0.18"><tspan font-style="italic">Q</tspan><tspan font-size="10.9" dy="4">inj</tspan><tspan dy="-4">= 0.1 mL/min</tspan></text><text x="702.8" y="291.7" font-size="17.1" fill="#222" stroke="#222" stroke-width="0.18" text-anchor="middle">(d) Perpendicular to HF direction</text><text x="646.6" y="314.4" font-size="17.1" fill="#222" stroke="#222" stroke-width="0.18"><tspan font-style="italic">Q</tspan><tspan font-size="10.9" dy="4">inj</tspan><tspan dy="-4">= 0.1 mL/min</tspan></text><text x="385" y="609" font-size="17.1" fill="#222" stroke="#222" stroke-width="0.18" text-anchor="middle">(e) Along HF direction</text><text x="335" y="628.7" font-size="17.1" fill="#222" stroke="#222" stroke-width="0.18"><tspan font-style="italic">Q</tspan><tspan font-size="10.9" dy="4">inj </tspan><tspan dy="-4">=1 mL/min</tspan></text><text x="702.8" y="609" font-size="17.1" fill="#222" stroke="#222" stroke-width="0.18" text-anchor="middle">(f) Perpendicular to HF direction</text><text x="653.6" y="628.3" font-size="17.1" fill="#222" stroke="#222" stroke-width="0.18"><tspan font-style="italic">Q</tspan><tspan font-size="10.9" dy="4">inj </tspan><tspan dy="-4">=1 mL/min</tspan></text></svg></body></html>
